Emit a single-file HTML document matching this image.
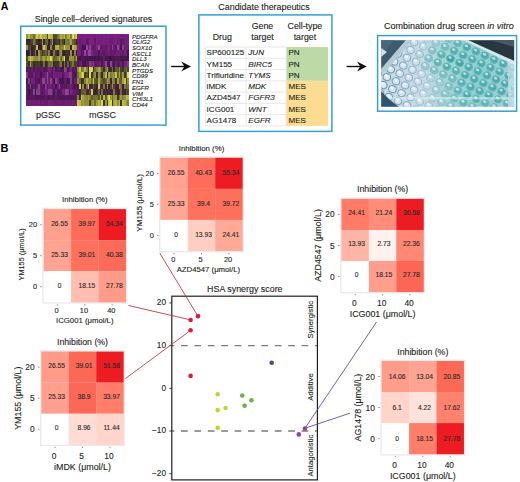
<!DOCTYPE html>
<html><head><meta charset="utf-8"><style>
html,body{margin:0;padding:0;background:#fff;}
svg{display:block;font-family:"Liberation Sans", sans-serif;}
</style></head><body>
<svg width="520" height="482" viewBox="0 0 520 482">
<rect width="520" height="482" fill="#fff"/>
<text x="0.8" y="9.6" font-size="10.6" text-anchor="start" fill="#000" font-weight="bold" >A</text>
<text x="93.5" y="22" font-size="8.85" text-anchor="middle" fill="#231f20" font-weight="normal" stroke="#231f20" stroke-width="0.12" >Single cell–derived signatures</text>
<rect x="20.7" y="26.2" width="145.3" height="98.9" fill="none" stroke="#35a0d0" stroke-width="1.5"/>
<g shape-rendering="crispEdges">
<rect x="26.20" y="33.80" width="1.75" height="5.57" fill="#95933a"/>
<rect x="27.90" y="33.80" width="1.75" height="5.57" fill="#b6b642"/>
<rect x="29.60" y="33.80" width="1.75" height="5.57" fill="#96943a"/>
<rect x="31.30" y="33.80" width="1.75" height="5.57" fill="#92903a"/>
<rect x="33.00" y="33.80" width="1.75" height="5.57" fill="#767333"/>
<rect x="34.70" y="33.80" width="1.75" height="5.57" fill="#96953b"/>
<rect x="36.40" y="33.80" width="1.75" height="5.57" fill="#d0d048"/>
<rect x="38.10" y="33.80" width="1.75" height="5.57" fill="#b3b241"/>
<rect x="39.80" y="33.80" width="1.75" height="5.57" fill="#cdcd48"/>
<rect x="41.50" y="33.80" width="1.75" height="5.57" fill="#abaa3f"/>
<rect x="43.20" y="33.80" width="1.75" height="5.57" fill="#b1b041"/>
<rect x="44.90" y="33.80" width="1.75" height="5.57" fill="#a8a73f"/>
<rect x="46.60" y="33.80" width="1.75" height="5.57" fill="#514e2a"/>
<rect x="48.30" y="33.80" width="1.75" height="5.57" fill="#c5c546"/>
<rect x="50.00" y="33.80" width="1.75" height="5.57" fill="#b6b542"/>
<rect x="51.70" y="33.80" width="1.75" height="5.57" fill="#b6b542"/>
<rect x="53.40" y="33.80" width="1.75" height="5.57" fill="#504c2a"/>
<rect x="55.10" y="33.80" width="1.75" height="5.57" fill="#4d4929"/>
<rect x="56.80" y="33.80" width="1.75" height="5.57" fill="#787533"/>
<rect x="58.50" y="33.80" width="1.75" height="5.57" fill="#8b8938"/>
<rect x="60.20" y="33.80" width="1.75" height="5.57" fill="#adac40"/>
<rect x="61.90" y="33.80" width="1.75" height="5.57" fill="#9e9c3c"/>
<rect x="63.60" y="33.80" width="1.75" height="5.57" fill="#b7b642"/>
<rect x="65.30" y="33.80" width="1.75" height="5.57" fill="#838136"/>
<rect x="67.00" y="33.80" width="1.75" height="5.57" fill="#aeac40"/>
<rect x="68.70" y="33.80" width="1.75" height="5.57" fill="#b1b041"/>
<rect x="70.40" y="33.80" width="1.75" height="5.57" fill="#828036"/>
<rect x="72.10" y="33.80" width="1.75" height="5.57" fill="#dada4b"/>
<rect x="73.80" y="33.80" width="1.75" height="5.57" fill="#b8b843"/>
<rect x="75.50" y="33.80" width="1.75" height="5.57" fill="#d4d449"/>
<rect x="26.20" y="39.32" width="1.75" height="5.57" fill="#3e2b31"/>
<rect x="27.90" y="39.32" width="1.75" height="5.57" fill="#3e2635"/>
<rect x="29.60" y="39.32" width="1.75" height="5.57" fill="#3e3728"/>
<rect x="31.30" y="39.32" width="1.75" height="5.57" fill="#4a4729"/>
<rect x="33.00" y="39.32" width="1.75" height="5.57" fill="#767333"/>
<rect x="34.70" y="39.32" width="1.75" height="5.57" fill="#605d2e"/>
<rect x="36.40" y="39.32" width="1.75" height="5.57" fill="#3e332b"/>
<rect x="38.10" y="39.32" width="1.75" height="5.57" fill="#3e1d3d"/>
<rect x="39.80" y="39.32" width="1.75" height="5.57" fill="#3e302e"/>
<rect x="41.50" y="39.32" width="1.75" height="5.57" fill="#95933a"/>
<rect x="43.20" y="39.32" width="1.75" height="5.57" fill="#3e2438"/>
<rect x="44.90" y="39.32" width="1.75" height="5.57" fill="#605d2e"/>
<rect x="46.60" y="39.32" width="1.75" height="5.57" fill="#6a6730"/>
<rect x="48.30" y="39.32" width="1.75" height="5.57" fill="#3e1644"/>
<rect x="50.00" y="39.32" width="1.75" height="5.57" fill="#54512b"/>
<rect x="51.70" y="39.32" width="1.75" height="5.57" fill="#9a983b"/>
<rect x="53.40" y="39.32" width="1.75" height="5.57" fill="#3e1644"/>
<rect x="55.10" y="39.32" width="1.75" height="5.57" fill="#3e3827"/>
<rect x="56.80" y="39.32" width="1.75" height="5.57" fill="#4a4729"/>
<rect x="58.50" y="39.32" width="1.75" height="5.57" fill="#3e2338"/>
<rect x="60.20" y="39.32" width="1.75" height="5.57" fill="#6e6b31"/>
<rect x="61.90" y="39.32" width="1.75" height="5.57" fill="#4d4a29"/>
<rect x="63.60" y="39.32" width="1.75" height="5.57" fill="#3e1644"/>
<rect x="65.30" y="39.32" width="1.75" height="5.57" fill="#807e35"/>
<rect x="67.00" y="39.32" width="1.75" height="5.57" fill="#787533"/>
<rect x="68.70" y="39.32" width="1.75" height="5.57" fill="#878537"/>
<rect x="70.40" y="39.32" width="1.75" height="5.57" fill="#a19f3d"/>
<rect x="72.10" y="39.32" width="1.75" height="5.57" fill="#67642f"/>
<rect x="73.80" y="39.32" width="1.75" height="5.57" fill="#58552c"/>
<rect x="75.50" y="39.32" width="1.75" height="5.57" fill="#3e1644"/>
<rect x="26.20" y="44.85" width="1.75" height="5.57" fill="#98963b"/>
<rect x="27.90" y="44.85" width="1.75" height="5.57" fill="#494528"/>
<rect x="29.60" y="44.85" width="1.75" height="5.57" fill="#54512b"/>
<rect x="31.30" y="44.85" width="1.75" height="5.57" fill="#3e213a"/>
<rect x="33.00" y="44.85" width="1.75" height="5.57" fill="#3e2f2e"/>
<rect x="34.70" y="44.85" width="1.75" height="5.57" fill="#4f4b2a"/>
<rect x="36.40" y="44.85" width="1.75" height="5.57" fill="#bfbf44"/>
<rect x="38.10" y="44.85" width="1.75" height="5.57" fill="#3e1644"/>
<rect x="39.80" y="44.85" width="1.75" height="5.57" fill="#3e1842"/>
<rect x="41.50" y="44.85" width="1.75" height="5.57" fill="#817f36"/>
<rect x="43.20" y="44.85" width="1.75" height="5.57" fill="#c8c846"/>
<rect x="44.90" y="44.85" width="1.75" height="5.57" fill="#96943a"/>
<rect x="46.60" y="44.85" width="1.75" height="5.57" fill="#3e1644"/>
<rect x="48.30" y="44.85" width="1.75" height="5.57" fill="#3e1644"/>
<rect x="50.00" y="44.85" width="1.75" height="5.57" fill="#888637"/>
<rect x="51.70" y="44.85" width="1.75" height="5.57" fill="#3f3b26"/>
<rect x="53.40" y="44.85" width="1.75" height="5.57" fill="#3e2834"/>
<rect x="55.10" y="44.85" width="1.75" height="5.57" fill="#adac40"/>
<rect x="56.80" y="44.85" width="1.75" height="5.57" fill="#b5b442"/>
<rect x="58.50" y="44.85" width="1.75" height="5.57" fill="#7c7a34"/>
<rect x="60.20" y="44.85" width="1.75" height="5.57" fill="#827f36"/>
<rect x="61.90" y="44.85" width="1.75" height="5.57" fill="#8d8b38"/>
<rect x="63.60" y="44.85" width="1.75" height="5.57" fill="#d1d048"/>
<rect x="65.30" y="44.85" width="1.75" height="5.57" fill="#98973b"/>
<rect x="67.00" y="44.85" width="1.75" height="5.57" fill="#92903a"/>
<rect x="68.70" y="44.85" width="1.75" height="5.57" fill="#94923a"/>
<rect x="70.40" y="44.85" width="1.75" height="5.57" fill="#3e1644"/>
<rect x="72.10" y="44.85" width="1.75" height="5.57" fill="#bfbe44"/>
<rect x="73.80" y="44.85" width="1.75" height="5.57" fill="#acab40"/>
<rect x="75.50" y="44.85" width="1.75" height="5.57" fill="#93913a"/>
<rect x="26.20" y="50.37" width="1.75" height="5.57" fill="#3e1644"/>
<rect x="27.90" y="50.37" width="1.75" height="5.57" fill="#3e1f3c"/>
<rect x="29.60" y="50.37" width="1.75" height="5.57" fill="#716f32"/>
<rect x="31.30" y="50.37" width="1.75" height="5.57" fill="#3e1644"/>
<rect x="33.00" y="50.37" width="1.75" height="5.57" fill="#3e322c"/>
<rect x="34.70" y="50.37" width="1.75" height="5.57" fill="#7b7934"/>
<rect x="36.40" y="50.37" width="1.75" height="5.57" fill="#3e1644"/>
<rect x="38.10" y="50.37" width="1.75" height="5.57" fill="#9b993c"/>
<rect x="39.80" y="50.37" width="1.75" height="5.57" fill="#615e2e"/>
<rect x="41.50" y="50.37" width="1.75" height="5.57" fill="#3e332b"/>
<rect x="43.20" y="50.37" width="1.75" height="5.57" fill="#54502b"/>
<rect x="44.90" y="50.37" width="1.75" height="5.57" fill="#67642f"/>
<rect x="46.60" y="50.37" width="1.75" height="5.57" fill="#474328"/>
<rect x="48.30" y="50.37" width="1.75" height="5.57" fill="#828036"/>
<rect x="50.00" y="50.37" width="1.75" height="5.57" fill="#3e1e3d"/>
<rect x="51.70" y="50.37" width="1.75" height="5.57" fill="#3e2834"/>
<rect x="53.40" y="50.37" width="1.75" height="5.57" fill="#7c7a34"/>
<rect x="55.10" y="50.37" width="1.75" height="5.57" fill="#403c26"/>
<rect x="56.80" y="50.37" width="1.75" height="5.57" fill="#3e1644"/>
<rect x="58.50" y="50.37" width="1.75" height="5.57" fill="#777533"/>
<rect x="60.20" y="50.37" width="1.75" height="5.57" fill="#93913a"/>
<rect x="61.90" y="50.37" width="1.75" height="5.57" fill="#3e2735"/>
<rect x="63.60" y="50.37" width="1.75" height="5.57" fill="#3e1644"/>
<rect x="65.30" y="50.37" width="1.75" height="5.57" fill="#3e342a"/>
<rect x="67.00" y="50.37" width="1.75" height="5.57" fill="#3e332b"/>
<rect x="68.70" y="50.37" width="1.75" height="5.57" fill="#3e2d30"/>
<rect x="70.40" y="50.37" width="1.75" height="5.57" fill="#908e39"/>
<rect x="72.10" y="50.37" width="1.75" height="5.57" fill="#3e1644"/>
<rect x="73.80" y="50.37" width="1.75" height="5.57" fill="#888637"/>
<rect x="75.50" y="50.37" width="1.75" height="5.57" fill="#3e1644"/>
<rect x="26.20" y="55.89" width="1.75" height="5.57" fill="#4e4b2a"/>
<rect x="27.90" y="55.89" width="1.75" height="5.57" fill="#a8a63f"/>
<rect x="29.60" y="55.89" width="1.75" height="5.57" fill="#c4c446"/>
<rect x="31.30" y="55.89" width="1.75" height="5.57" fill="#b5b442"/>
<rect x="33.00" y="55.89" width="1.75" height="5.57" fill="#97953b"/>
<rect x="34.70" y="55.89" width="1.75" height="5.57" fill="#8b8938"/>
<rect x="36.40" y="55.89" width="1.75" height="5.57" fill="#8b8938"/>
<rect x="38.10" y="55.89" width="1.75" height="5.57" fill="#a4a33e"/>
<rect x="39.80" y="55.89" width="1.75" height="5.57" fill="#777433"/>
<rect x="41.50" y="55.89" width="1.75" height="5.57" fill="#93913a"/>
<rect x="43.20" y="55.89" width="1.75" height="5.57" fill="#a4a33e"/>
<rect x="44.90" y="55.89" width="1.75" height="5.57" fill="#828036"/>
<rect x="46.60" y="55.89" width="1.75" height="5.57" fill="#afae41"/>
<rect x="48.30" y="55.89" width="1.75" height="5.57" fill="#a4a33e"/>
<rect x="50.00" y="55.89" width="1.75" height="5.57" fill="#dada4b"/>
<rect x="51.70" y="55.89" width="1.75" height="5.57" fill="#96943a"/>
<rect x="53.40" y="55.89" width="1.75" height="5.57" fill="#67642f"/>
<rect x="55.10" y="55.89" width="1.75" height="5.57" fill="#6a6830"/>
<rect x="56.80" y="55.89" width="1.75" height="5.57" fill="#817f36"/>
<rect x="58.50" y="55.89" width="1.75" height="5.57" fill="#b9b843"/>
<rect x="60.20" y="55.89" width="1.75" height="5.57" fill="#6d6a31"/>
<rect x="61.90" y="55.89" width="1.75" height="5.57" fill="#99983b"/>
<rect x="63.60" y="55.89" width="1.75" height="5.57" fill="#dada4b"/>
<rect x="65.30" y="55.89" width="1.75" height="5.57" fill="#3e2e30"/>
<rect x="67.00" y="55.89" width="1.75" height="5.57" fill="#3e342a"/>
<rect x="68.70" y="55.89" width="1.75" height="5.57" fill="#918f39"/>
<rect x="70.40" y="55.89" width="1.75" height="5.57" fill="#9a983b"/>
<rect x="72.10" y="55.89" width="1.75" height="5.57" fill="#908f39"/>
<rect x="73.80" y="55.89" width="1.75" height="5.57" fill="#67642f"/>
<rect x="75.50" y="55.89" width="1.75" height="5.57" fill="#a9a83f"/>
<rect x="26.20" y="61.42" width="1.75" height="5.57" fill="#55512b"/>
<rect x="27.90" y="61.42" width="1.75" height="5.57" fill="#3e302e"/>
<rect x="29.60" y="61.42" width="1.75" height="5.57" fill="#a8a73f"/>
<rect x="31.30" y="61.42" width="1.75" height="5.57" fill="#58552c"/>
<rect x="33.00" y="61.42" width="1.75" height="5.57" fill="#3e2f2e"/>
<rect x="34.70" y="61.42" width="1.75" height="5.57" fill="#433f27"/>
<rect x="36.40" y="61.42" width="1.75" height="5.57" fill="#3e3926"/>
<rect x="38.10" y="61.42" width="1.75" height="5.57" fill="#454127"/>
<rect x="39.80" y="61.42" width="1.75" height="5.57" fill="#3e223a"/>
<rect x="41.50" y="61.42" width="1.75" height="5.57" fill="#3e312d"/>
<rect x="43.20" y="61.42" width="1.75" height="5.57" fill="#737032"/>
<rect x="44.90" y="61.42" width="1.75" height="5.57" fill="#3e223a"/>
<rect x="46.60" y="61.42" width="1.75" height="5.57" fill="#454127"/>
<rect x="48.30" y="61.42" width="1.75" height="5.57" fill="#706e32"/>
<rect x="50.00" y="61.42" width="1.75" height="5.57" fill="#6d6a31"/>
<rect x="51.70" y="61.42" width="1.75" height="5.57" fill="#858337"/>
<rect x="53.40" y="61.42" width="1.75" height="5.57" fill="#3e223a"/>
<rect x="55.10" y="61.42" width="1.75" height="5.57" fill="#3e3529"/>
<rect x="56.80" y="61.42" width="1.75" height="5.57" fill="#3e3529"/>
<rect x="58.50" y="61.42" width="1.75" height="5.57" fill="#63602e"/>
<rect x="60.20" y="61.42" width="1.75" height="5.57" fill="#767333"/>
<rect x="61.90" y="61.42" width="1.75" height="5.57" fill="#3e223a"/>
<rect x="63.60" y="61.42" width="1.75" height="5.57" fill="#767333"/>
<rect x="65.30" y="61.42" width="1.75" height="5.57" fill="#3e223a"/>
<rect x="67.00" y="61.42" width="1.75" height="5.57" fill="#66632f"/>
<rect x="68.70" y="61.42" width="1.75" height="5.57" fill="#3e223a"/>
<rect x="70.40" y="61.42" width="1.75" height="5.57" fill="#504d2a"/>
<rect x="72.10" y="61.42" width="1.75" height="5.57" fill="#7a7734"/>
<rect x="73.80" y="61.42" width="1.75" height="5.57" fill="#413d26"/>
<rect x="75.50" y="61.42" width="1.75" height="5.57" fill="#514d2a"/>
<rect x="26.20" y="66.94" width="1.75" height="5.57" fill="#531959"/>
<rect x="27.90" y="66.94" width="1.75" height="5.57" fill="#601b66"/>
<rect x="29.60" y="66.94" width="1.75" height="5.57" fill="#4e1854"/>
<rect x="31.30" y="66.94" width="1.75" height="5.57" fill="#681c6e"/>
<rect x="33.00" y="66.94" width="1.75" height="5.57" fill="#511957"/>
<rect x="34.70" y="66.94" width="1.75" height="5.57" fill="#681c6e"/>
<rect x="36.40" y="66.94" width="1.75" height="5.57" fill="#5e1b64"/>
<rect x="38.10" y="66.94" width="1.75" height="5.57" fill="#56195c"/>
<rect x="39.80" y="66.94" width="1.75" height="5.57" fill="#571a5d"/>
<rect x="41.50" y="66.94" width="1.75" height="5.57" fill="#751f7b"/>
<rect x="43.20" y="66.94" width="1.75" height="5.57" fill="#4a1850"/>
<rect x="44.90" y="66.94" width="1.75" height="5.57" fill="#54195a"/>
<rect x="46.60" y="66.94" width="1.75" height="5.57" fill="#631b69"/>
<rect x="48.30" y="66.94" width="1.75" height="5.57" fill="#791f7f"/>
<rect x="50.00" y="66.94" width="1.75" height="5.57" fill="#741e7a"/>
<rect x="51.70" y="66.94" width="1.75" height="5.57" fill="#44174a"/>
<rect x="53.40" y="66.94" width="1.75" height="5.57" fill="#7c2082"/>
<rect x="55.10" y="66.94" width="1.75" height="5.57" fill="#47174d"/>
<rect x="56.80" y="66.94" width="1.75" height="5.57" fill="#5b1a61"/>
<rect x="58.50" y="66.94" width="1.75" height="5.57" fill="#5b1a61"/>
<rect x="60.20" y="66.94" width="1.75" height="5.57" fill="#4d1853"/>
<rect x="61.90" y="66.94" width="1.75" height="5.57" fill="#46174c"/>
<rect x="63.60" y="66.94" width="1.75" height="5.57" fill="#904495"/>
<rect x="65.30" y="66.94" width="1.75" height="5.57" fill="#814186"/>
<rect x="67.00" y="66.94" width="1.75" height="5.57" fill="#47174d"/>
<rect x="68.70" y="66.94" width="1.75" height="5.57" fill="#681c6e"/>
<rect x="70.40" y="66.94" width="1.75" height="5.57" fill="#7c2082"/>
<rect x="72.10" y="66.94" width="1.75" height="5.57" fill="#531959"/>
<rect x="73.80" y="66.94" width="1.75" height="5.57" fill="#631c69"/>
<rect x="75.50" y="66.94" width="1.75" height="5.57" fill="#521958"/>
<rect x="26.20" y="72.46" width="1.75" height="5.57" fill="#88438e"/>
<rect x="27.90" y="72.46" width="1.75" height="5.57" fill="#4b1851"/>
<rect x="29.60" y="72.46" width="1.75" height="5.57" fill="#6c1d72"/>
<rect x="31.30" y="72.46" width="1.75" height="5.57" fill="#4e1854"/>
<rect x="33.00" y="72.46" width="1.75" height="5.57" fill="#7c2082"/>
<rect x="34.70" y="72.46" width="1.75" height="5.57" fill="#4a1850"/>
<rect x="36.40" y="72.46" width="1.75" height="5.57" fill="#631c69"/>
<rect x="38.10" y="72.46" width="1.75" height="5.57" fill="#601b66"/>
<rect x="39.80" y="72.46" width="1.75" height="5.57" fill="#421648"/>
<rect x="41.50" y="72.46" width="1.75" height="5.57" fill="#5e1b64"/>
<rect x="43.20" y="72.46" width="1.75" height="5.57" fill="#631c69"/>
<rect x="44.90" y="72.46" width="1.75" height="5.57" fill="#781f7e"/>
<rect x="46.60" y="72.46" width="1.75" height="5.57" fill="#95459a"/>
<rect x="48.30" y="72.46" width="1.75" height="5.57" fill="#6b1d71"/>
<rect x="50.00" y="72.46" width="1.75" height="5.57" fill="#5f1b65"/>
<rect x="51.70" y="72.46" width="1.75" height="5.57" fill="#4f1855"/>
<rect x="53.40" y="72.46" width="1.75" height="5.57" fill="#7c2082"/>
<rect x="55.10" y="72.46" width="1.75" height="5.57" fill="#6c1d72"/>
<rect x="56.80" y="72.46" width="1.75" height="5.57" fill="#711e77"/>
<rect x="58.50" y="72.46" width="1.75" height="5.57" fill="#6e1d74"/>
<rect x="60.20" y="72.46" width="1.75" height="5.57" fill="#761f7c"/>
<rect x="61.90" y="72.46" width="1.75" height="5.57" fill="#581a5e"/>
<rect x="63.60" y="72.46" width="1.75" height="5.57" fill="#6c1d72"/>
<rect x="65.30" y="72.46" width="1.75" height="5.57" fill="#7c2082"/>
<rect x="67.00" y="72.46" width="1.75" height="5.57" fill="#7c2082"/>
<rect x="68.70" y="72.46" width="1.75" height="5.57" fill="#8f4495"/>
<rect x="70.40" y="72.46" width="1.75" height="5.57" fill="#814186"/>
<rect x="72.10" y="72.46" width="1.75" height="5.57" fill="#511957"/>
<rect x="73.80" y="72.46" width="1.75" height="5.57" fill="#45174b"/>
<rect x="75.50" y="72.46" width="1.75" height="5.57" fill="#521958"/>
<rect x="26.20" y="77.98" width="1.75" height="5.57" fill="#4f1855"/>
<rect x="27.90" y="77.98" width="1.75" height="5.57" fill="#7d4182"/>
<rect x="29.60" y="77.98" width="1.75" height="5.57" fill="#421648"/>
<rect x="31.30" y="77.98" width="1.75" height="5.57" fill="#7c2082"/>
<rect x="33.00" y="77.98" width="1.75" height="5.57" fill="#731e79"/>
<rect x="34.70" y="77.98" width="1.75" height="5.57" fill="#531959"/>
<rect x="36.40" y="77.98" width="1.75" height="5.57" fill="#56195c"/>
<rect x="38.10" y="77.98" width="1.75" height="5.57" fill="#4f1855"/>
<rect x="39.80" y="77.98" width="1.75" height="5.57" fill="#5b1a61"/>
<rect x="41.50" y="77.98" width="1.75" height="5.57" fill="#814287"/>
<rect x="43.20" y="77.98" width="1.75" height="5.57" fill="#924497"/>
<rect x="44.90" y="77.98" width="1.75" height="5.57" fill="#681c6e"/>
<rect x="46.60" y="77.98" width="1.75" height="5.57" fill="#904496"/>
<rect x="48.30" y="77.98" width="1.75" height="5.57" fill="#711e77"/>
<rect x="50.00" y="77.98" width="1.75" height="5.57" fill="#834289"/>
<rect x="51.70" y="77.98" width="1.75" height="5.57" fill="#7c2082"/>
<rect x="53.40" y="77.98" width="1.75" height="5.57" fill="#421648"/>
<rect x="55.10" y="77.98" width="1.75" height="5.57" fill="#85428b"/>
<rect x="56.80" y="77.98" width="1.75" height="5.57" fill="#7c2082"/>
<rect x="58.50" y="77.98" width="1.75" height="5.57" fill="#4d1853"/>
<rect x="60.20" y="77.98" width="1.75" height="5.57" fill="#47174d"/>
<rect x="61.90" y="77.98" width="1.75" height="5.57" fill="#421648"/>
<rect x="63.60" y="77.98" width="1.75" height="5.57" fill="#5b1a61"/>
<rect x="65.30" y="77.98" width="1.75" height="5.57" fill="#5d1b63"/>
<rect x="67.00" y="77.98" width="1.75" height="5.57" fill="#421648"/>
<rect x="68.70" y="77.98" width="1.75" height="5.57" fill="#4d1853"/>
<rect x="70.40" y="77.98" width="1.75" height="5.57" fill="#7b4080"/>
<rect x="72.10" y="77.98" width="1.75" height="5.57" fill="#4e1854"/>
<rect x="73.80" y="77.98" width="1.75" height="5.57" fill="#721e78"/>
<rect x="75.50" y="77.98" width="1.75" height="5.57" fill="#5c1a62"/>
<rect x="26.20" y="83.51" width="1.75" height="5.57" fill="#5e1b64"/>
<rect x="27.90" y="83.51" width="1.75" height="5.57" fill="#511957"/>
<rect x="29.60" y="83.51" width="1.75" height="5.57" fill="#824287"/>
<rect x="31.30" y="83.51" width="1.75" height="5.57" fill="#54195a"/>
<rect x="33.00" y="83.51" width="1.75" height="5.57" fill="#641c6a"/>
<rect x="34.70" y="83.51" width="1.75" height="5.57" fill="#4b1851"/>
<rect x="36.40" y="83.51" width="1.75" height="5.57" fill="#6a1d70"/>
<rect x="38.10" y="83.51" width="1.75" height="5.57" fill="#87438c"/>
<rect x="39.80" y="83.51" width="1.75" height="5.57" fill="#5d1b63"/>
<rect x="41.50" y="83.51" width="1.75" height="5.57" fill="#591a5f"/>
<rect x="43.20" y="83.51" width="1.75" height="5.57" fill="#531959"/>
<rect x="44.90" y="83.51" width="1.75" height="5.57" fill="#7c4182"/>
<rect x="46.60" y="83.51" width="1.75" height="5.57" fill="#531959"/>
<rect x="48.30" y="83.51" width="1.75" height="5.57" fill="#721e78"/>
<rect x="50.00" y="83.51" width="1.75" height="5.57" fill="#711e77"/>
<rect x="51.70" y="83.51" width="1.75" height="5.57" fill="#4c1852"/>
<rect x="53.40" y="83.51" width="1.75" height="5.57" fill="#741e7a"/>
<rect x="55.10" y="83.51" width="1.75" height="5.57" fill="#3e1644"/>
<rect x="56.80" y="83.51" width="1.75" height="5.57" fill="#6b1d71"/>
<rect x="58.50" y="83.51" width="1.75" height="5.57" fill="#8f4494"/>
<rect x="60.20" y="83.51" width="1.75" height="5.57" fill="#571a5d"/>
<rect x="61.90" y="83.51" width="1.75" height="5.57" fill="#561a5c"/>
<rect x="63.60" y="83.51" width="1.75" height="5.57" fill="#581a5e"/>
<rect x="65.30" y="83.51" width="1.75" height="5.57" fill="#55195b"/>
<rect x="67.00" y="83.51" width="1.75" height="5.57" fill="#651c6b"/>
<rect x="68.70" y="83.51" width="1.75" height="5.57" fill="#6c1d72"/>
<rect x="70.40" y="83.51" width="1.75" height="5.57" fill="#691d6f"/>
<rect x="72.10" y="83.51" width="1.75" height="5.57" fill="#591a5f"/>
<rect x="73.80" y="83.51" width="1.75" height="5.57" fill="#3e1644"/>
<rect x="75.50" y="83.51" width="1.75" height="5.57" fill="#6b1d71"/>
<rect x="26.20" y="89.03" width="1.75" height="5.57" fill="#5d1b63"/>
<rect x="27.90" y="89.03" width="1.75" height="5.57" fill="#421648"/>
<rect x="29.60" y="89.03" width="1.75" height="5.57" fill="#49174f"/>
<rect x="31.30" y="89.03" width="1.75" height="5.57" fill="#5f1b65"/>
<rect x="33.00" y="89.03" width="1.75" height="5.57" fill="#84428a"/>
<rect x="34.70" y="89.03" width="1.75" height="5.57" fill="#46174c"/>
<rect x="36.40" y="89.03" width="1.75" height="5.57" fill="#7f4185"/>
<rect x="38.10" y="89.03" width="1.75" height="5.57" fill="#824288"/>
<rect x="39.80" y="89.03" width="1.75" height="5.57" fill="#651c6b"/>
<rect x="41.50" y="89.03" width="1.75" height="5.57" fill="#501856"/>
<rect x="43.20" y="89.03" width="1.75" height="5.57" fill="#5f1b65"/>
<rect x="44.90" y="89.03" width="1.75" height="5.57" fill="#7c2082"/>
<rect x="46.60" y="89.03" width="1.75" height="5.57" fill="#6e1d74"/>
<rect x="48.30" y="89.03" width="1.75" height="5.57" fill="#824288"/>
<rect x="50.00" y="89.03" width="1.75" height="5.57" fill="#8a438f"/>
<rect x="51.70" y="89.03" width="1.75" height="5.57" fill="#7c2082"/>
<rect x="53.40" y="89.03" width="1.75" height="5.57" fill="#47174d"/>
<rect x="55.10" y="89.03" width="1.75" height="5.57" fill="#731e79"/>
<rect x="56.80" y="89.03" width="1.75" height="5.57" fill="#4e1854"/>
<rect x="58.50" y="89.03" width="1.75" height="5.57" fill="#4a1850"/>
<rect x="60.20" y="89.03" width="1.75" height="5.57" fill="#511957"/>
<rect x="61.90" y="89.03" width="1.75" height="5.57" fill="#7c2082"/>
<rect x="63.60" y="89.03" width="1.75" height="5.57" fill="#6d1d73"/>
<rect x="65.30" y="89.03" width="1.75" height="5.57" fill="#95459a"/>
<rect x="67.00" y="89.03" width="1.75" height="5.57" fill="#814287"/>
<rect x="68.70" y="89.03" width="1.75" height="5.57" fill="#501856"/>
<rect x="70.40" y="89.03" width="1.75" height="5.57" fill="#7c2082"/>
<rect x="72.10" y="89.03" width="1.75" height="5.57" fill="#6a1d70"/>
<rect x="73.80" y="89.03" width="1.75" height="5.57" fill="#611b67"/>
<rect x="75.50" y="89.03" width="1.75" height="5.57" fill="#5f1b65"/>
<rect x="26.20" y="94.55" width="1.75" height="5.57" fill="#56195c"/>
<rect x="27.90" y="94.55" width="1.75" height="5.57" fill="#4f1855"/>
<rect x="29.60" y="94.55" width="1.75" height="5.57" fill="#501956"/>
<rect x="31.30" y="94.55" width="1.75" height="5.57" fill="#511957"/>
<rect x="33.00" y="94.55" width="1.75" height="5.57" fill="#501856"/>
<rect x="34.70" y="94.55" width="1.75" height="5.57" fill="#531959"/>
<rect x="36.40" y="94.55" width="1.75" height="5.57" fill="#4b1851"/>
<rect x="38.10" y="94.55" width="1.75" height="5.57" fill="#4d1853"/>
<rect x="39.80" y="94.55" width="1.75" height="5.57" fill="#501856"/>
<rect x="41.50" y="94.55" width="1.75" height="5.57" fill="#531959"/>
<rect x="43.20" y="94.55" width="1.75" height="5.57" fill="#501956"/>
<rect x="44.90" y="94.55" width="1.75" height="5.57" fill="#5e1b64"/>
<rect x="46.60" y="94.55" width="1.75" height="5.57" fill="#54195a"/>
<rect x="48.30" y="94.55" width="1.75" height="5.57" fill="#4f1855"/>
<rect x="50.00" y="94.55" width="1.75" height="5.57" fill="#571a5d"/>
<rect x="51.70" y="94.55" width="1.75" height="5.57" fill="#4e1854"/>
<rect x="53.40" y="94.55" width="1.75" height="5.57" fill="#4e1854"/>
<rect x="55.10" y="94.55" width="1.75" height="5.57" fill="#571a5d"/>
<rect x="56.80" y="94.55" width="1.75" height="5.57" fill="#511957"/>
<rect x="58.50" y="94.55" width="1.75" height="5.57" fill="#511957"/>
<rect x="60.20" y="94.55" width="1.75" height="5.57" fill="#4d1853"/>
<rect x="61.90" y="94.55" width="1.75" height="5.57" fill="#4c1852"/>
<rect x="63.60" y="94.55" width="1.75" height="5.57" fill="#4f1855"/>
<rect x="65.30" y="94.55" width="1.75" height="5.57" fill="#54195a"/>
<rect x="67.00" y="94.55" width="1.75" height="5.57" fill="#501856"/>
<rect x="68.70" y="94.55" width="1.75" height="5.57" fill="#501856"/>
<rect x="70.40" y="94.55" width="1.75" height="5.57" fill="#4b1851"/>
<rect x="72.10" y="94.55" width="1.75" height="5.57" fill="#4e1854"/>
<rect x="73.80" y="94.55" width="1.75" height="5.57" fill="#531959"/>
<rect x="75.50" y="94.55" width="1.75" height="5.57" fill="#561a5c"/>
<rect x="26.20" y="100.08" width="1.75" height="5.57" fill="#701e76"/>
<rect x="27.90" y="100.08" width="1.75" height="5.57" fill="#711e77"/>
<rect x="29.60" y="100.08" width="1.75" height="5.57" fill="#731e79"/>
<rect x="31.30" y="100.08" width="1.75" height="5.57" fill="#6f1d75"/>
<rect x="33.00" y="100.08" width="1.75" height="5.57" fill="#701e76"/>
<rect x="34.70" y="100.08" width="1.75" height="5.57" fill="#6e1d74"/>
<rect x="36.40" y="100.08" width="1.75" height="5.57" fill="#6c1d72"/>
<rect x="38.10" y="100.08" width="1.75" height="5.57" fill="#701e76"/>
<rect x="39.80" y="100.08" width="1.75" height="5.57" fill="#641c6a"/>
<rect x="41.50" y="100.08" width="1.75" height="5.57" fill="#701e76"/>
<rect x="43.20" y="100.08" width="1.75" height="5.57" fill="#691d6f"/>
<rect x="44.90" y="100.08" width="1.75" height="5.57" fill="#6e1d74"/>
<rect x="46.60" y="100.08" width="1.75" height="5.57" fill="#691d6f"/>
<rect x="48.30" y="100.08" width="1.75" height="5.57" fill="#791f7f"/>
<rect x="50.00" y="100.08" width="1.75" height="5.57" fill="#721e78"/>
<rect x="51.70" y="100.08" width="1.75" height="5.57" fill="#6d1d73"/>
<rect x="53.40" y="100.08" width="1.75" height="5.57" fill="#6c1d72"/>
<rect x="55.10" y="100.08" width="1.75" height="5.57" fill="#641c6a"/>
<rect x="56.80" y="100.08" width="1.75" height="5.57" fill="#6d1d73"/>
<rect x="58.50" y="100.08" width="1.75" height="5.57" fill="#691c6f"/>
<rect x="60.20" y="100.08" width="1.75" height="5.57" fill="#6b1d71"/>
<rect x="61.90" y="100.08" width="1.75" height="5.57" fill="#6a1d70"/>
<rect x="63.60" y="100.08" width="1.75" height="5.57" fill="#6c1d72"/>
<rect x="65.30" y="100.08" width="1.75" height="5.57" fill="#6f1d75"/>
<rect x="67.00" y="100.08" width="1.75" height="5.57" fill="#6c1d72"/>
<rect x="68.70" y="100.08" width="1.75" height="5.57" fill="#731e79"/>
<rect x="70.40" y="100.08" width="1.75" height="5.57" fill="#691d6f"/>
<rect x="72.10" y="100.08" width="1.75" height="5.57" fill="#731e79"/>
<rect x="73.80" y="100.08" width="1.75" height="5.57" fill="#6d1d73"/>
<rect x="75.50" y="100.08" width="1.75" height="5.57" fill="#651c6b"/>
<rect x="77.20" y="33.80" width="1.78" height="5.57" fill="#7c2082"/>
<rect x="78.93" y="33.80" width="1.78" height="5.57" fill="#7b1f81"/>
<rect x="80.65" y="33.80" width="1.78" height="5.57" fill="#751f7b"/>
<rect x="82.38" y="33.80" width="1.78" height="5.57" fill="#7b1f81"/>
<rect x="84.11" y="33.80" width="1.78" height="5.57" fill="#7c2082"/>
<rect x="85.83" y="33.80" width="1.78" height="5.57" fill="#7a1f80"/>
<rect x="87.56" y="33.80" width="1.78" height="5.57" fill="#781f7e"/>
<rect x="89.29" y="33.80" width="1.78" height="5.57" fill="#781f7e"/>
<rect x="91.01" y="33.80" width="1.78" height="5.57" fill="#7c2082"/>
<rect x="92.74" y="33.80" width="1.78" height="5.57" fill="#721e78"/>
<rect x="94.47" y="33.80" width="1.78" height="5.57" fill="#731e79"/>
<rect x="96.19" y="33.80" width="1.78" height="5.57" fill="#7b1f81"/>
<rect x="97.92" y="33.80" width="1.78" height="5.57" fill="#7a1f80"/>
<rect x="99.65" y="33.80" width="1.78" height="5.57" fill="#7c2082"/>
<rect x="101.37" y="33.80" width="1.78" height="5.57" fill="#741e7a"/>
<rect x="103.10" y="33.80" width="1.78" height="5.57" fill="#7c2082"/>
<rect x="104.83" y="33.80" width="1.78" height="5.57" fill="#781f7e"/>
<rect x="106.55" y="33.80" width="1.78" height="5.57" fill="#7c2082"/>
<rect x="108.28" y="33.80" width="1.78" height="5.57" fill="#7c2082"/>
<rect x="110.01" y="33.80" width="1.78" height="5.57" fill="#781f7e"/>
<rect x="111.73" y="33.80" width="1.78" height="5.57" fill="#741e7a"/>
<rect x="113.46" y="33.80" width="1.78" height="5.57" fill="#7c2082"/>
<rect x="115.19" y="33.80" width="1.78" height="5.57" fill="#7c2082"/>
<rect x="116.91" y="33.80" width="1.78" height="5.57" fill="#771f7d"/>
<rect x="118.64" y="33.80" width="1.78" height="5.57" fill="#7c2082"/>
<rect x="120.37" y="33.80" width="1.78" height="5.57" fill="#7a1f80"/>
<rect x="122.09" y="33.80" width="1.78" height="5.57" fill="#731e79"/>
<rect x="123.82" y="33.80" width="1.78" height="5.57" fill="#751f7b"/>
<rect x="125.55" y="33.80" width="1.78" height="5.57" fill="#7c2082"/>
<rect x="127.27" y="33.80" width="1.78" height="5.57" fill="#6f1e75"/>
<rect x="77.20" y="39.32" width="1.78" height="5.57" fill="#711e77"/>
<rect x="78.93" y="39.32" width="1.78" height="5.57" fill="#661c6c"/>
<rect x="80.65" y="39.32" width="1.78" height="5.57" fill="#791f7f"/>
<rect x="82.38" y="39.32" width="1.78" height="5.57" fill="#711e77"/>
<rect x="84.11" y="39.32" width="1.78" height="5.57" fill="#7c2082"/>
<rect x="85.83" y="39.32" width="1.78" height="5.57" fill="#591a5f"/>
<rect x="87.56" y="39.32" width="1.78" height="5.57" fill="#5f1b65"/>
<rect x="89.29" y="39.32" width="1.78" height="5.57" fill="#7c2082"/>
<rect x="91.01" y="39.32" width="1.78" height="5.57" fill="#7c2082"/>
<rect x="92.74" y="39.32" width="1.78" height="5.57" fill="#7c2082"/>
<rect x="94.47" y="39.32" width="1.78" height="5.57" fill="#611b67"/>
<rect x="96.19" y="39.32" width="1.78" height="5.57" fill="#771f7d"/>
<rect x="97.92" y="39.32" width="1.78" height="5.57" fill="#721e78"/>
<rect x="99.65" y="39.32" width="1.78" height="5.57" fill="#751e7b"/>
<rect x="101.37" y="39.32" width="1.78" height="5.57" fill="#721e78"/>
<rect x="103.10" y="39.32" width="1.78" height="5.57" fill="#7c2082"/>
<rect x="104.83" y="39.32" width="1.78" height="5.57" fill="#711e77"/>
<rect x="106.55" y="39.32" width="1.78" height="5.57" fill="#7c2082"/>
<rect x="108.28" y="39.32" width="1.78" height="5.57" fill="#721e78"/>
<rect x="110.01" y="39.32" width="1.78" height="5.57" fill="#6d1d73"/>
<rect x="111.73" y="39.32" width="1.78" height="5.57" fill="#6b1d71"/>
<rect x="113.46" y="39.32" width="1.78" height="5.57" fill="#741e7a"/>
<rect x="115.19" y="39.32" width="1.78" height="5.57" fill="#7c2082"/>
<rect x="116.91" y="39.32" width="1.78" height="5.57" fill="#6f1d75"/>
<rect x="118.64" y="39.32" width="1.78" height="5.57" fill="#771f7d"/>
<rect x="120.37" y="39.32" width="1.78" height="5.57" fill="#5c1a62"/>
<rect x="122.09" y="39.32" width="1.78" height="5.57" fill="#671c6d"/>
<rect x="123.82" y="39.32" width="1.78" height="5.57" fill="#721e78"/>
<rect x="125.55" y="39.32" width="1.78" height="5.57" fill="#771f7d"/>
<rect x="127.27" y="39.32" width="1.78" height="5.57" fill="#7a1f80"/>
<rect x="77.20" y="44.85" width="1.78" height="5.57" fill="#7c2082"/>
<rect x="78.93" y="44.85" width="1.78" height="5.57" fill="#701e76"/>
<rect x="80.65" y="44.85" width="1.78" height="5.57" fill="#5b1a61"/>
<rect x="82.38" y="44.85" width="1.78" height="5.57" fill="#421648"/>
<rect x="84.11" y="44.85" width="1.78" height="5.57" fill="#421648"/>
<rect x="85.83" y="44.85" width="1.78" height="5.57" fill="#95459a"/>
<rect x="87.56" y="44.85" width="1.78" height="5.57" fill="#651c6b"/>
<rect x="89.29" y="44.85" width="1.78" height="5.57" fill="#88438d"/>
<rect x="91.01" y="44.85" width="1.78" height="5.57" fill="#671c6d"/>
<rect x="92.74" y="44.85" width="1.78" height="5.57" fill="#571a5d"/>
<rect x="94.47" y="44.85" width="1.78" height="5.57" fill="#681c6e"/>
<rect x="96.19" y="44.85" width="1.78" height="5.57" fill="#7c2082"/>
<rect x="97.92" y="44.85" width="1.78" height="5.57" fill="#924498"/>
<rect x="99.65" y="44.85" width="1.78" height="5.57" fill="#5a1a60"/>
<rect x="101.37" y="44.85" width="1.78" height="5.57" fill="#5d1b63"/>
<rect x="103.10" y="44.85" width="1.78" height="5.57" fill="#6a1d70"/>
<rect x="104.83" y="44.85" width="1.78" height="5.57" fill="#5e1b64"/>
<rect x="106.55" y="44.85" width="1.78" height="5.57" fill="#741e7a"/>
<rect x="108.28" y="44.85" width="1.78" height="5.57" fill="#7b1f81"/>
<rect x="110.01" y="44.85" width="1.78" height="5.57" fill="#5a1a60"/>
<rect x="111.73" y="44.85" width="1.78" height="5.57" fill="#8a4390"/>
<rect x="113.46" y="44.85" width="1.78" height="5.57" fill="#6b1d71"/>
<rect x="115.19" y="44.85" width="1.78" height="5.57" fill="#54195a"/>
<rect x="116.91" y="44.85" width="1.78" height="5.57" fill="#934498"/>
<rect x="118.64" y="44.85" width="1.78" height="5.57" fill="#7c2082"/>
<rect x="120.37" y="44.85" width="1.78" height="5.57" fill="#48174e"/>
<rect x="122.09" y="44.85" width="1.78" height="5.57" fill="#85428a"/>
<rect x="123.82" y="44.85" width="1.78" height="5.57" fill="#6b1d71"/>
<rect x="125.55" y="44.85" width="1.78" height="5.57" fill="#7c2082"/>
<rect x="127.27" y="44.85" width="1.78" height="5.57" fill="#6d1d73"/>
<rect x="77.20" y="50.37" width="1.78" height="5.57" fill="#7a1f80"/>
<rect x="78.93" y="50.37" width="1.78" height="5.57" fill="#7c2082"/>
<rect x="80.65" y="50.37" width="1.78" height="5.57" fill="#45174b"/>
<rect x="82.38" y="50.37" width="1.78" height="5.57" fill="#5e1b64"/>
<rect x="84.11" y="50.37" width="1.78" height="5.57" fill="#8f4495"/>
<rect x="85.83" y="50.37" width="1.78" height="5.57" fill="#731e79"/>
<rect x="87.56" y="50.37" width="1.78" height="5.57" fill="#944499"/>
<rect x="89.29" y="50.37" width="1.78" height="5.57" fill="#95459a"/>
<rect x="91.01" y="50.37" width="1.78" height="5.57" fill="#7c2082"/>
<rect x="92.74" y="50.37" width="1.78" height="5.57" fill="#6a1d70"/>
<rect x="94.47" y="50.37" width="1.78" height="5.57" fill="#691c6f"/>
<rect x="96.19" y="50.37" width="1.78" height="5.57" fill="#681c6e"/>
<rect x="97.92" y="50.37" width="1.78" height="5.57" fill="#4b1851"/>
<rect x="99.65" y="50.37" width="1.78" height="5.57" fill="#6d1d73"/>
<rect x="101.37" y="50.37" width="1.78" height="5.57" fill="#651c6b"/>
<rect x="103.10" y="50.37" width="1.78" height="5.57" fill="#581a5e"/>
<rect x="104.83" y="50.37" width="1.78" height="5.57" fill="#681c6e"/>
<rect x="106.55" y="50.37" width="1.78" height="5.57" fill="#621b68"/>
<rect x="108.28" y="50.37" width="1.78" height="5.57" fill="#731e79"/>
<rect x="110.01" y="50.37" width="1.78" height="5.57" fill="#5f1b65"/>
<rect x="111.73" y="50.37" width="1.78" height="5.57" fill="#651c6b"/>
<rect x="113.46" y="50.37" width="1.78" height="5.57" fill="#611b67"/>
<rect x="115.19" y="50.37" width="1.78" height="5.57" fill="#6c1d72"/>
<rect x="116.91" y="50.37" width="1.78" height="5.57" fill="#721e78"/>
<rect x="118.64" y="50.37" width="1.78" height="5.57" fill="#731e79"/>
<rect x="120.37" y="50.37" width="1.78" height="5.57" fill="#671c6d"/>
<rect x="122.09" y="50.37" width="1.78" height="5.57" fill="#601b66"/>
<rect x="123.82" y="50.37" width="1.78" height="5.57" fill="#731e79"/>
<rect x="125.55" y="50.37" width="1.78" height="5.57" fill="#741e7a"/>
<rect x="127.27" y="50.37" width="1.78" height="5.57" fill="#421648"/>
<rect x="77.20" y="55.89" width="1.78" height="5.57" fill="#47174d"/>
<rect x="78.93" y="55.89" width="1.78" height="5.57" fill="#431649"/>
<rect x="80.65" y="55.89" width="1.78" height="5.57" fill="#4f1855"/>
<rect x="82.38" y="55.89" width="1.78" height="5.57" fill="#531959"/>
<rect x="84.11" y="55.89" width="1.78" height="5.57" fill="#45174b"/>
<rect x="85.83" y="55.89" width="1.78" height="5.57" fill="#44174a"/>
<rect x="87.56" y="55.89" width="1.78" height="5.57" fill="#45174b"/>
<rect x="89.29" y="55.89" width="1.78" height="5.57" fill="#3e1644"/>
<rect x="91.01" y="55.89" width="1.78" height="5.57" fill="#47174d"/>
<rect x="92.74" y="55.89" width="1.78" height="5.57" fill="#47174d"/>
<rect x="94.47" y="55.89" width="1.78" height="5.57" fill="#431649"/>
<rect x="96.19" y="55.89" width="1.78" height="5.57" fill="#46174c"/>
<rect x="97.92" y="55.89" width="1.78" height="5.57" fill="#3f1645"/>
<rect x="99.65" y="55.89" width="1.78" height="5.57" fill="#4f1855"/>
<rect x="101.37" y="55.89" width="1.78" height="5.57" fill="#4a1850"/>
<rect x="103.10" y="55.89" width="1.78" height="5.57" fill="#5a1a60"/>
<rect x="104.83" y="55.89" width="1.78" height="5.57" fill="#44174a"/>
<rect x="106.55" y="55.89" width="1.78" height="5.57" fill="#4a1850"/>
<rect x="108.28" y="55.89" width="1.78" height="5.57" fill="#431649"/>
<rect x="110.01" y="55.89" width="1.78" height="5.57" fill="#3e1644"/>
<rect x="111.73" y="55.89" width="1.78" height="5.57" fill="#48174e"/>
<rect x="113.46" y="55.89" width="1.78" height="5.57" fill="#49174f"/>
<rect x="115.19" y="55.89" width="1.78" height="5.57" fill="#4b1851"/>
<rect x="116.91" y="55.89" width="1.78" height="5.57" fill="#4d1853"/>
<rect x="118.64" y="55.89" width="1.78" height="5.57" fill="#4b1851"/>
<rect x="120.37" y="55.89" width="1.78" height="5.57" fill="#45174b"/>
<rect x="122.09" y="55.89" width="1.78" height="5.57" fill="#48174e"/>
<rect x="123.82" y="55.89" width="1.78" height="5.57" fill="#48174e"/>
<rect x="125.55" y="55.89" width="1.78" height="5.57" fill="#49174f"/>
<rect x="127.27" y="55.89" width="1.78" height="5.57" fill="#431649"/>
<rect x="77.20" y="61.42" width="1.78" height="5.57" fill="#561a5c"/>
<rect x="78.93" y="61.42" width="1.78" height="5.57" fill="#661c6c"/>
<rect x="80.65" y="61.42" width="1.78" height="5.57" fill="#7c2082"/>
<rect x="82.38" y="61.42" width="1.78" height="5.57" fill="#3f1645"/>
<rect x="84.11" y="61.42" width="1.78" height="5.57" fill="#48174e"/>
<rect x="85.83" y="61.42" width="1.78" height="5.57" fill="#5a1a60"/>
<rect x="87.56" y="61.42" width="1.78" height="5.57" fill="#5a1a60"/>
<rect x="89.29" y="61.42" width="1.78" height="5.57" fill="#804185"/>
<rect x="91.01" y="61.42" width="1.78" height="5.57" fill="#7c2082"/>
<rect x="92.74" y="61.42" width="1.78" height="5.57" fill="#7f4184"/>
<rect x="94.47" y="61.42" width="1.78" height="5.57" fill="#5a1a60"/>
<rect x="96.19" y="61.42" width="1.78" height="5.57" fill="#611b67"/>
<rect x="97.92" y="61.42" width="1.78" height="5.57" fill="#641c6a"/>
<rect x="99.65" y="61.42" width="1.78" height="5.57" fill="#7c2082"/>
<rect x="101.37" y="61.42" width="1.78" height="5.57" fill="#421648"/>
<rect x="103.10" y="61.42" width="1.78" height="5.57" fill="#6c1d72"/>
<rect x="104.83" y="61.42" width="1.78" height="5.57" fill="#8d4493"/>
<rect x="106.55" y="61.42" width="1.78" height="5.57" fill="#501956"/>
<rect x="108.28" y="61.42" width="1.78" height="5.57" fill="#44174a"/>
<rect x="110.01" y="61.42" width="1.78" height="5.57" fill="#914497"/>
<rect x="111.73" y="61.42" width="1.78" height="5.57" fill="#601b66"/>
<rect x="113.46" y="61.42" width="1.78" height="5.57" fill="#47174d"/>
<rect x="115.19" y="61.42" width="1.78" height="5.57" fill="#711e77"/>
<rect x="116.91" y="61.42" width="1.78" height="5.57" fill="#561a5c"/>
<rect x="118.64" y="61.42" width="1.78" height="5.57" fill="#55195b"/>
<rect x="120.37" y="61.42" width="1.78" height="5.57" fill="#6a1d70"/>
<rect x="122.09" y="61.42" width="1.78" height="5.57" fill="#501856"/>
<rect x="123.82" y="61.42" width="1.78" height="5.57" fill="#7c2082"/>
<rect x="125.55" y="61.42" width="1.78" height="5.57" fill="#6d1d73"/>
<rect x="127.27" y="61.42" width="1.78" height="5.57" fill="#804185"/>
<rect x="77.20" y="66.94" width="1.78" height="5.57" fill="#908e39"/>
<rect x="78.93" y="66.94" width="1.78" height="5.57" fill="#c5c446"/>
<rect x="80.65" y="66.94" width="1.78" height="5.57" fill="#737032"/>
<rect x="82.38" y="66.94" width="1.78" height="5.57" fill="#868437"/>
<rect x="84.11" y="66.94" width="1.78" height="5.57" fill="#b4b342"/>
<rect x="85.83" y="66.94" width="1.78" height="5.57" fill="#817f35"/>
<rect x="87.56" y="66.94" width="1.78" height="5.57" fill="#3e2834"/>
<rect x="89.29" y="66.94" width="1.78" height="5.57" fill="#dada4b"/>
<rect x="91.01" y="66.94" width="1.78" height="5.57" fill="#dada4b"/>
<rect x="92.74" y="66.94" width="1.78" height="5.57" fill="#3e223a"/>
<rect x="94.47" y="66.94" width="1.78" height="5.57" fill="#706d32"/>
<rect x="96.19" y="66.94" width="1.78" height="5.57" fill="#898737"/>
<rect x="97.92" y="66.94" width="1.78" height="5.57" fill="#a6a43e"/>
<rect x="99.65" y="66.94" width="1.78" height="5.57" fill="#96943b"/>
<rect x="101.37" y="66.94" width="1.78" height="5.57" fill="#63602e"/>
<rect x="103.10" y="66.94" width="1.78" height="5.57" fill="#3e312c"/>
<rect x="104.83" y="66.94" width="1.78" height="5.57" fill="#787533"/>
<rect x="106.55" y="66.94" width="1.78" height="5.57" fill="#a9a83f"/>
<rect x="108.28" y="66.94" width="1.78" height="5.57" fill="#3e302e"/>
<rect x="110.01" y="66.94" width="1.78" height="5.57" fill="#3e322b"/>
<rect x="111.73" y="66.94" width="1.78" height="5.57" fill="#716e32"/>
<rect x="113.46" y="66.94" width="1.78" height="5.57" fill="#3e223a"/>
<rect x="115.19" y="66.94" width="1.78" height="5.57" fill="#64612f"/>
<rect x="116.91" y="66.94" width="1.78" height="5.57" fill="#59562c"/>
<rect x="118.64" y="66.94" width="1.78" height="5.57" fill="#8b8938"/>
<rect x="120.37" y="66.94" width="1.78" height="5.57" fill="#494528"/>
<rect x="122.09" y="66.94" width="1.78" height="5.57" fill="#3e3826"/>
<rect x="123.82" y="66.94" width="1.78" height="5.57" fill="#5c592d"/>
<rect x="125.55" y="66.94" width="1.78" height="5.57" fill="#706d31"/>
<rect x="127.27" y="66.94" width="1.78" height="5.57" fill="#4b4829"/>
<rect x="77.20" y="72.46" width="1.78" height="5.57" fill="#737032"/>
<rect x="78.93" y="72.46" width="1.78" height="5.57" fill="#a09f3d"/>
<rect x="80.65" y="72.46" width="1.78" height="5.57" fill="#b9b943"/>
<rect x="82.38" y="72.46" width="1.78" height="5.57" fill="#d7d74a"/>
<rect x="84.11" y="72.46" width="1.78" height="5.57" fill="#3e3827"/>
<rect x="85.83" y="72.46" width="1.78" height="5.57" fill="#57532b"/>
<rect x="87.56" y="72.46" width="1.78" height="5.57" fill="#3e223a"/>
<rect x="89.29" y="72.46" width="1.78" height="5.57" fill="#dada4b"/>
<rect x="91.01" y="72.46" width="1.78" height="5.57" fill="#403c26"/>
<rect x="92.74" y="72.46" width="1.78" height="5.57" fill="#706d32"/>
<rect x="94.47" y="72.46" width="1.78" height="5.57" fill="#92913a"/>
<rect x="96.19" y="72.46" width="1.78" height="5.57" fill="#3e223a"/>
<rect x="97.92" y="72.46" width="1.78" height="5.57" fill="#8f8d39"/>
<rect x="99.65" y="72.46" width="1.78" height="5.57" fill="#716e32"/>
<rect x="101.37" y="72.46" width="1.78" height="5.57" fill="#3e223a"/>
<rect x="103.10" y="72.46" width="1.78" height="5.57" fill="#848236"/>
<rect x="104.83" y="72.46" width="1.78" height="5.57" fill="#bab943"/>
<rect x="106.55" y="72.46" width="1.78" height="5.57" fill="#3e223a"/>
<rect x="108.28" y="72.46" width="1.78" height="5.57" fill="#a3a23e"/>
<rect x="110.01" y="72.46" width="1.78" height="5.57" fill="#7f7d35"/>
<rect x="111.73" y="72.46" width="1.78" height="5.57" fill="#908e39"/>
<rect x="113.46" y="72.46" width="1.78" height="5.57" fill="#8e8c38"/>
<rect x="115.19" y="72.46" width="1.78" height="5.57" fill="#c0c045"/>
<rect x="116.91" y="72.46" width="1.78" height="5.57" fill="#64612f"/>
<rect x="118.64" y="72.46" width="1.78" height="5.57" fill="#a7a63f"/>
<rect x="120.37" y="72.46" width="1.78" height="5.57" fill="#57542c"/>
<rect x="122.09" y="72.46" width="1.78" height="5.57" fill="#9f9d3d"/>
<rect x="123.82" y="72.46" width="1.78" height="5.57" fill="#3e3628"/>
<rect x="125.55" y="72.46" width="1.78" height="5.57" fill="#6b6930"/>
<rect x="127.27" y="72.46" width="1.78" height="5.57" fill="#d8d84a"/>
<rect x="77.20" y="77.98" width="1.78" height="5.57" fill="#918f39"/>
<rect x="78.93" y="77.98" width="1.78" height="5.57" fill="#6b6930"/>
<rect x="80.65" y="77.98" width="1.78" height="5.57" fill="#3e2933"/>
<rect x="82.38" y="77.98" width="1.78" height="5.57" fill="#3f3b26"/>
<rect x="84.11" y="77.98" width="1.78" height="5.57" fill="#817f36"/>
<rect x="85.83" y="77.98" width="1.78" height="5.57" fill="#aead40"/>
<rect x="87.56" y="77.98" width="1.78" height="5.57" fill="#908e39"/>
<rect x="89.29" y="77.98" width="1.78" height="5.57" fill="#96943a"/>
<rect x="91.01" y="77.98" width="1.78" height="5.57" fill="#737032"/>
<rect x="92.74" y="77.98" width="1.78" height="5.57" fill="#c6c546"/>
<rect x="94.47" y="77.98" width="1.78" height="5.57" fill="#5c592d"/>
<rect x="96.19" y="77.98" width="1.78" height="5.57" fill="#514e2a"/>
<rect x="97.92" y="77.98" width="1.78" height="5.57" fill="#abaa3f"/>
<rect x="99.65" y="77.98" width="1.78" height="5.57" fill="#797734"/>
<rect x="101.37" y="77.98" width="1.78" height="5.57" fill="#64612f"/>
<rect x="103.10" y="77.98" width="1.78" height="5.57" fill="#4f4c2a"/>
<rect x="104.83" y="77.98" width="1.78" height="5.57" fill="#65622f"/>
<rect x="106.55" y="77.98" width="1.78" height="5.57" fill="#9b9a3c"/>
<rect x="108.28" y="77.98" width="1.78" height="5.57" fill="#8b8938"/>
<rect x="110.01" y="77.98" width="1.78" height="5.57" fill="#3e2636"/>
<rect x="111.73" y="77.98" width="1.78" height="5.57" fill="#908e39"/>
<rect x="113.46" y="77.98" width="1.78" height="5.57" fill="#817e35"/>
<rect x="115.19" y="77.98" width="1.78" height="5.57" fill="#3e302e"/>
<rect x="116.91" y="77.98" width="1.78" height="5.57" fill="#a4a33e"/>
<rect x="118.64" y="77.98" width="1.78" height="5.57" fill="#63602e"/>
<rect x="120.37" y="77.98" width="1.78" height="5.57" fill="#605d2e"/>
<rect x="122.09" y="77.98" width="1.78" height="5.57" fill="#a6a43e"/>
<rect x="123.82" y="77.98" width="1.78" height="5.57" fill="#c4c345"/>
<rect x="125.55" y="77.98" width="1.78" height="5.57" fill="#474328"/>
<rect x="127.27" y="77.98" width="1.78" height="5.57" fill="#908f39"/>
<rect x="77.20" y="83.51" width="1.78" height="5.57" fill="#401646"/>
<rect x="78.93" y="83.51" width="1.78" height="5.57" fill="#d2d249"/>
<rect x="80.65" y="83.51" width="1.78" height="5.57" fill="#3e2437"/>
<rect x="82.38" y="83.51" width="1.78" height="5.57" fill="#918f39"/>
<rect x="84.11" y="83.51" width="1.78" height="5.57" fill="#3e1d3d"/>
<rect x="85.83" y="83.51" width="1.78" height="5.57" fill="#797734"/>
<rect x="87.56" y="83.51" width="1.78" height="5.57" fill="#cccc47"/>
<rect x="89.29" y="83.51" width="1.78" height="5.57" fill="#4f1855"/>
<rect x="91.01" y="83.51" width="1.78" height="5.57" fill="#3e2735"/>
<rect x="92.74" y="83.51" width="1.78" height="5.57" fill="#65622f"/>
<rect x="94.47" y="83.51" width="1.78" height="5.57" fill="#3e3727"/>
<rect x="96.19" y="83.51" width="1.78" height="5.57" fill="#3e1c3e"/>
<rect x="97.92" y="83.51" width="1.78" height="5.57" fill="#c9c847"/>
<rect x="99.65" y="83.51" width="1.78" height="5.57" fill="#484528"/>
<rect x="101.37" y="83.51" width="1.78" height="5.57" fill="#4f1855"/>
<rect x="103.10" y="83.51" width="1.78" height="5.57" fill="#7c7a34"/>
<rect x="104.83" y="83.51" width="1.78" height="5.57" fill="#4f1855"/>
<rect x="106.55" y="83.51" width="1.78" height="5.57" fill="#8e8c39"/>
<rect x="108.28" y="83.51" width="1.78" height="5.57" fill="#3e203b"/>
<rect x="110.01" y="83.51" width="1.78" height="5.57" fill="#4d4a29"/>
<rect x="111.73" y="83.51" width="1.78" height="5.57" fill="#95933a"/>
<rect x="113.46" y="83.51" width="1.78" height="5.57" fill="#4b4829"/>
<rect x="115.19" y="83.51" width="1.78" height="5.57" fill="#4f1855"/>
<rect x="116.91" y="83.51" width="1.78" height="5.57" fill="#4f1855"/>
<rect x="118.64" y="83.51" width="1.78" height="5.57" fill="#908e39"/>
<rect x="120.37" y="83.51" width="1.78" height="5.57" fill="#757233"/>
<rect x="122.09" y="83.51" width="1.78" height="5.57" fill="#3e1644"/>
<rect x="123.82" y="83.51" width="1.78" height="5.57" fill="#7c7a34"/>
<rect x="125.55" y="83.51" width="1.78" height="5.57" fill="#65622f"/>
<rect x="127.27" y="83.51" width="1.78" height="5.57" fill="#6f6c31"/>
<rect x="77.20" y="89.03" width="1.78" height="5.57" fill="#581a5e"/>
<rect x="78.93" y="89.03" width="1.78" height="5.57" fill="#3e1d3e"/>
<rect x="80.65" y="89.03" width="1.78" height="5.57" fill="#696630"/>
<rect x="82.38" y="89.03" width="1.78" height="5.57" fill="#5e5b2d"/>
<rect x="84.11" y="89.03" width="1.78" height="5.57" fill="#67652f"/>
<rect x="85.83" y="89.03" width="1.78" height="5.57" fill="#581a5e"/>
<rect x="87.56" y="89.03" width="1.78" height="5.57" fill="#3e332b"/>
<rect x="89.29" y="89.03" width="1.78" height="5.57" fill="#4d4929"/>
<rect x="91.01" y="89.03" width="1.78" height="5.57" fill="#cbcb47"/>
<rect x="92.74" y="89.03" width="1.78" height="5.57" fill="#4f1855"/>
<rect x="94.47" y="89.03" width="1.78" height="5.57" fill="#3e1b3f"/>
<rect x="96.19" y="89.03" width="1.78" height="5.57" fill="#3e2d30"/>
<rect x="97.92" y="89.03" width="1.78" height="5.57" fill="#686530"/>
<rect x="99.65" y="89.03" width="1.78" height="5.57" fill="#3e1643"/>
<rect x="101.37" y="89.03" width="1.78" height="5.57" fill="#787633"/>
<rect x="103.10" y="89.03" width="1.78" height="5.57" fill="#49174f"/>
<rect x="104.83" y="89.03" width="1.78" height="5.57" fill="#3e3827"/>
<rect x="106.55" y="89.03" width="1.78" height="5.57" fill="#401646"/>
<rect x="108.28" y="89.03" width="1.78" height="5.57" fill="#3e332b"/>
<rect x="110.01" y="89.03" width="1.78" height="5.57" fill="#46174c"/>
<rect x="111.73" y="89.03" width="1.78" height="5.57" fill="#581a5e"/>
<rect x="113.46" y="89.03" width="1.78" height="5.57" fill="#757233"/>
<rect x="115.19" y="89.03" width="1.78" height="5.57" fill="#3e3a26"/>
<rect x="116.91" y="89.03" width="1.78" height="5.57" fill="#411647"/>
<rect x="118.64" y="89.03" width="1.78" height="5.57" fill="#3e3529"/>
<rect x="120.37" y="89.03" width="1.78" height="5.57" fill="#6e6c31"/>
<rect x="122.09" y="89.03" width="1.78" height="5.57" fill="#501956"/>
<rect x="123.82" y="89.03" width="1.78" height="5.57" fill="#3e2636"/>
<rect x="125.55" y="89.03" width="1.78" height="5.57" fill="#504d2a"/>
<rect x="127.27" y="89.03" width="1.78" height="5.57" fill="#4f4c2a"/>
<rect x="77.20" y="94.55" width="1.78" height="5.57" fill="#848236"/>
<rect x="78.93" y="94.55" width="1.78" height="5.57" fill="#3e2e30"/>
<rect x="80.65" y="94.55" width="1.78" height="5.57" fill="#cece48"/>
<rect x="82.38" y="94.55" width="1.78" height="5.57" fill="#a4a23e"/>
<rect x="84.11" y="94.55" width="1.78" height="5.57" fill="#95933a"/>
<rect x="85.83" y="94.55" width="1.78" height="5.57" fill="#878437"/>
<rect x="87.56" y="94.55" width="1.78" height="5.57" fill="#a19f3d"/>
<rect x="89.29" y="94.55" width="1.78" height="5.57" fill="#7f7d35"/>
<rect x="91.01" y="94.55" width="1.78" height="5.57" fill="#615e2e"/>
<rect x="92.74" y="94.55" width="1.78" height="5.57" fill="#706d31"/>
<rect x="94.47" y="94.55" width="1.78" height="5.57" fill="#777433"/>
<rect x="96.19" y="94.55" width="1.78" height="5.57" fill="#767433"/>
<rect x="97.92" y="94.55" width="1.78" height="5.57" fill="#5a562c"/>
<rect x="99.65" y="94.55" width="1.78" height="5.57" fill="#b2b141"/>
<rect x="101.37" y="94.55" width="1.78" height="5.57" fill="#514e2a"/>
<rect x="103.10" y="94.55" width="1.78" height="5.57" fill="#b3b241"/>
<rect x="104.83" y="94.55" width="1.78" height="5.57" fill="#615e2e"/>
<rect x="106.55" y="94.55" width="1.78" height="5.57" fill="#a5a33e"/>
<rect x="108.28" y="94.55" width="1.78" height="5.57" fill="#d4d449"/>
<rect x="110.01" y="94.55" width="1.78" height="5.57" fill="#9e9c3c"/>
<rect x="111.73" y="94.55" width="1.78" height="5.57" fill="#706d31"/>
<rect x="113.46" y="94.55" width="1.78" height="5.57" fill="#96953b"/>
<rect x="115.19" y="94.55" width="1.78" height="5.57" fill="#9b9a3c"/>
<rect x="116.91" y="94.55" width="1.78" height="5.57" fill="#3e3529"/>
<rect x="118.64" y="94.55" width="1.78" height="5.57" fill="#767433"/>
<rect x="120.37" y="94.55" width="1.78" height="5.57" fill="#9c9a3c"/>
<rect x="122.09" y="94.55" width="1.78" height="5.57" fill="#7d7b35"/>
<rect x="123.82" y="94.55" width="1.78" height="5.57" fill="#98963b"/>
<rect x="125.55" y="94.55" width="1.78" height="5.57" fill="#b7b642"/>
<rect x="127.27" y="94.55" width="1.78" height="5.57" fill="#b8b743"/>
<rect x="77.20" y="100.08" width="1.78" height="5.57" fill="#c7c746"/>
<rect x="78.93" y="100.08" width="1.78" height="5.57" fill="#b9b843"/>
<rect x="80.65" y="100.08" width="1.78" height="5.57" fill="#8f8d39"/>
<rect x="82.38" y="100.08" width="1.78" height="5.57" fill="#9c9b3c"/>
<rect x="84.11" y="100.08" width="1.78" height="5.57" fill="#908e39"/>
<rect x="85.83" y="100.08" width="1.78" height="5.57" fill="#8e8c39"/>
<rect x="87.56" y="100.08" width="1.78" height="5.57" fill="#94933a"/>
<rect x="89.29" y="100.08" width="1.78" height="5.57" fill="#444027"/>
<rect x="91.01" y="100.08" width="1.78" height="5.57" fill="#8d8b38"/>
<rect x="92.74" y="100.08" width="1.78" height="5.57" fill="#9c9a3c"/>
<rect x="94.47" y="100.08" width="1.78" height="5.57" fill="#6d6a31"/>
<rect x="96.19" y="100.08" width="1.78" height="5.57" fill="#9c9a3c"/>
<rect x="97.92" y="100.08" width="1.78" height="5.57" fill="#b5b442"/>
<rect x="99.65" y="100.08" width="1.78" height="5.57" fill="#95933a"/>
<rect x="101.37" y="100.08" width="1.78" height="5.57" fill="#dada4b"/>
<rect x="103.10" y="100.08" width="1.78" height="5.57" fill="#3e2e30"/>
<rect x="104.83" y="100.08" width="1.78" height="5.57" fill="#93913a"/>
<rect x="106.55" y="100.08" width="1.78" height="5.57" fill="#3e3926"/>
<rect x="108.28" y="100.08" width="1.78" height="5.57" fill="#caca47"/>
<rect x="110.01" y="100.08" width="1.78" height="5.57" fill="#dada4b"/>
<rect x="111.73" y="100.08" width="1.78" height="5.57" fill="#3e2e30"/>
<rect x="113.46" y="100.08" width="1.78" height="5.57" fill="#a3a23e"/>
<rect x="115.19" y="100.08" width="1.78" height="5.57" fill="#b5b442"/>
<rect x="116.91" y="100.08" width="1.78" height="5.57" fill="#8f8d39"/>
<rect x="118.64" y="100.08" width="1.78" height="5.57" fill="#b7b642"/>
<rect x="120.37" y="100.08" width="1.78" height="5.57" fill="#3e2e30"/>
<rect x="122.09" y="100.08" width="1.78" height="5.57" fill="#c5c446"/>
<rect x="123.82" y="100.08" width="1.78" height="5.57" fill="#afad40"/>
<rect x="125.55" y="100.08" width="1.78" height="5.57" fill="#9e9d3c"/>
<rect x="127.27" y="100.08" width="1.78" height="5.57" fill="#817e35"/>
</g>
<text x="132.0" y="38.60" font-size="6.15" text-anchor="start" fill="#231f20" font-weight="normal" font-style="italic" stroke="#231f20" stroke-width="0.12" >PDGFRA</text>
<text x="132.0" y="44.29" font-size="6.15" text-anchor="start" fill="#231f20" font-weight="normal" font-style="italic" stroke="#231f20" stroke-width="0.12" >OLIG2</text>
<text x="132.0" y="49.98" font-size="6.15" text-anchor="start" fill="#231f20" font-weight="normal" font-style="italic" stroke="#231f20" stroke-width="0.12" >SOX10</text>
<text x="132.0" y="55.67" font-size="6.15" text-anchor="start" fill="#231f20" font-weight="normal" font-style="italic" stroke="#231f20" stroke-width="0.12" >ASCL1</text>
<text x="132.0" y="61.36" font-size="6.15" text-anchor="start" fill="#231f20" font-weight="normal" font-style="italic" stroke="#231f20" stroke-width="0.12" >DLL3</text>
<text x="132.0" y="67.05" font-size="6.15" text-anchor="start" fill="#231f20" font-weight="normal" font-style="italic" stroke="#231f20" stroke-width="0.12" >BCAN</text>
<text x="132.0" y="72.74" font-size="6.15" text-anchor="start" fill="#231f20" font-weight="normal" font-style="italic" stroke="#231f20" stroke-width="0.12" >PTGDS</text>
<text x="132.0" y="78.43" font-size="6.15" text-anchor="start" fill="#231f20" font-weight="normal" font-style="italic" stroke="#231f20" stroke-width="0.12" >CD99</text>
<text x="132.0" y="84.12" font-size="6.15" text-anchor="start" fill="#231f20" font-weight="normal" font-style="italic" stroke="#231f20" stroke-width="0.12" >FN1</text>
<text x="132.0" y="89.81" font-size="6.15" text-anchor="start" fill="#231f20" font-weight="normal" font-style="italic" stroke="#231f20" stroke-width="0.12" >EGFR</text>
<text x="132.0" y="95.50" font-size="6.15" text-anchor="start" fill="#231f20" font-weight="normal" font-style="italic" stroke="#231f20" stroke-width="0.12" >VIM</text>
<text x="132.0" y="101.19" font-size="6.15" text-anchor="start" fill="#231f20" font-weight="normal" font-style="italic" stroke="#231f20" stroke-width="0.12" >CHI3L1</text>
<text x="132.0" y="106.88" font-size="6.15" text-anchor="start" fill="#231f20" font-weight="normal" font-style="italic" stroke="#231f20" stroke-width="0.12" >CD44</text>
<text x="36" y="117.6" font-size="9.0" text-anchor="start" fill="#231f20" font-weight="normal" stroke="#231f20" stroke-width="0.12" >pGSC</text>
<text x="89" y="117.6" font-size="9.0" text-anchor="start" fill="#231f20" font-weight="normal" stroke="#231f20" stroke-width="0.12" >mGSC</text>
<line x1="171.2" y1="66.5" x2="186" y2="66.5" stroke="#111" stroke-width="1.4"/>
<path d="M191,66.5 L181.2,61.5 L184.4,66.5 L181.2,71.5 Z" fill="#111"/>
<line x1="346.6" y1="66.5" x2="361.8" y2="66.5" stroke="#111" stroke-width="1.4"/>
<path d="M366.8,66.5 L357.0,61.5 L360.2,66.5 L357.0,71.5 Z" fill="#111"/>
<text x="264" y="9.8" font-size="8.9" text-anchor="middle" fill="#231f20" font-weight="normal" stroke="#231f20" stroke-width="0.12" >Candidate therapeutics</text>
<rect x="198.9" y="14.9" width="133" height="116.5" fill="none" stroke="#35a0d0" stroke-width="1.5"/>
<rect x="286.3" y="47.0" width="41.89999999999998" height="33.81" fill="#bcd9a6"/>
<rect x="286.3" y="80.81" width="41.89999999999998" height="45.08" fill="#fbdc90"/>
<line x1="205.3" y1="47.00" x2="286.3" y2="47.00" stroke="#e2e2e2" stroke-width="0.8"/>
<line x1="205.3" y1="58.27" x2="286.3" y2="58.27" stroke="#e2e2e2" stroke-width="0.8"/>
<line x1="205.3" y1="69.54" x2="286.3" y2="69.54" stroke="#e2e2e2" stroke-width="0.8"/>
<line x1="205.3" y1="80.81" x2="286.3" y2="80.81" stroke="#e2e2e2" stroke-width="0.8"/>
<line x1="205.3" y1="92.08" x2="286.3" y2="92.08" stroke="#e2e2e2" stroke-width="0.8"/>
<line x1="205.3" y1="103.35" x2="286.3" y2="103.35" stroke="#e2e2e2" stroke-width="0.8"/>
<line x1="205.3" y1="114.62" x2="286.3" y2="114.62" stroke="#e2e2e2" stroke-width="0.8"/>
<line x1="205.3" y1="125.89" x2="286.3" y2="125.89" stroke="#e2e2e2" stroke-width="0.8"/>
<line x1="205.3" y1="47.0" x2="205.3" y2="125.89" stroke="#e2e2e2" stroke-width="0.8"/>
<line x1="246.0" y1="47.0" x2="246.0" y2="125.89" stroke="#e2e2e2" stroke-width="0.8"/>
<line x1="286.3" y1="47.0" x2="286.3" y2="125.89" stroke="#e2e2e2" stroke-width="0.8"/>
<text x="206.6" y="55.40" font-size="8.05" text-anchor="start" fill="#231f20" font-weight="normal" stroke="#231f20" stroke-width="0.12" >SP600125</text>
<text x="248.3" y="55.40" font-size="8.05" text-anchor="start" fill="#231f20" font-weight="normal" font-style="italic" stroke="#231f20" stroke-width="0.12" >JUN</text>
<text x="288.5" y="55.40" font-size="8.05" text-anchor="start" fill="#231f20" font-weight="normal" stroke="#231f20" stroke-width="0.12" >PN</text>
<text x="206.6" y="66.67" font-size="8.05" text-anchor="start" fill="#231f20" font-weight="normal" stroke="#231f20" stroke-width="0.12" >YM155</text>
<text x="248.3" y="66.67" font-size="8.05" text-anchor="start" fill="#231f20" font-weight="normal" font-style="italic" stroke="#231f20" stroke-width="0.12" >BIRC5</text>
<text x="288.5" y="66.67" font-size="8.05" text-anchor="start" fill="#231f20" font-weight="normal" stroke="#231f20" stroke-width="0.12" >PN</text>
<text x="206.6" y="77.94" font-size="8.05" text-anchor="start" fill="#231f20" font-weight="normal" stroke="#231f20" stroke-width="0.12" >Trifluridine</text>
<text x="248.3" y="77.94" font-size="8.05" text-anchor="start" fill="#231f20" font-weight="normal" font-style="italic" stroke="#231f20" stroke-width="0.12" >TYMS</text>
<text x="288.5" y="77.94" font-size="8.05" text-anchor="start" fill="#231f20" font-weight="normal" stroke="#231f20" stroke-width="0.12" >PN</text>
<text x="206.6" y="89.21" font-size="8.05" text-anchor="start" fill="#231f20" font-weight="normal" stroke="#231f20" stroke-width="0.12" >iMDK</text>
<text x="248.3" y="89.21" font-size="8.05" text-anchor="start" fill="#231f20" font-weight="normal" font-style="italic" stroke="#231f20" stroke-width="0.12" >MDK</text>
<text x="288.5" y="89.21" font-size="8.05" text-anchor="start" fill="#231f20" font-weight="normal" stroke="#231f20" stroke-width="0.12" >MES</text>
<text x="206.6" y="100.48" font-size="8.05" text-anchor="start" fill="#231f20" font-weight="normal" stroke="#231f20" stroke-width="0.12" >AZD4547</text>
<text x="248.3" y="100.48" font-size="8.05" text-anchor="start" fill="#231f20" font-weight="normal" font-style="italic" stroke="#231f20" stroke-width="0.12" >FGFR3</text>
<text x="288.5" y="100.48" font-size="8.05" text-anchor="start" fill="#231f20" font-weight="normal" stroke="#231f20" stroke-width="0.12" >MES</text>
<text x="206.6" y="111.75" font-size="8.05" text-anchor="start" fill="#231f20" font-weight="normal" stroke="#231f20" stroke-width="0.12" >ICG001</text>
<text x="248.3" y="111.75" font-size="8.05" text-anchor="start" fill="#231f20" font-weight="normal" font-style="italic" stroke="#231f20" stroke-width="0.12" >WNT</text>
<text x="288.5" y="111.75" font-size="8.05" text-anchor="start" fill="#231f20" font-weight="normal" stroke="#231f20" stroke-width="0.12" >MES</text>
<text x="206.6" y="123.02" font-size="8.05" text-anchor="start" fill="#231f20" font-weight="normal" stroke="#231f20" stroke-width="0.12" >AG1478</text>
<text x="248.3" y="123.02" font-size="8.05" text-anchor="start" fill="#231f20" font-weight="normal" font-style="italic" stroke="#231f20" stroke-width="0.12" >EGFR</text>
<text x="288.5" y="123.02" font-size="8.05" text-anchor="start" fill="#231f20" font-weight="normal" stroke="#231f20" stroke-width="0.12" >MES</text>
<text x="222.3" y="39.7" font-size="8.8" text-anchor="middle" fill="#231f20" font-weight="normal" stroke="#231f20" stroke-width="0.12" >Drug</text>
<text x="262.5" y="29.3" font-size="8.8" text-anchor="middle" fill="#231f20" font-weight="normal" stroke="#231f20" stroke-width="0.12" >Gene</text>
<text x="262.5" y="39.7" font-size="8.8" text-anchor="middle" fill="#231f20" font-weight="normal" stroke="#231f20" stroke-width="0.12" >target</text>
<text x="304.9" y="29.3" font-size="8.8" text-anchor="middle" fill="#231f20" font-weight="normal" stroke="#231f20" stroke-width="0.12" >Cell-type</text>
<text x="304.9" y="39.7" font-size="8.8" text-anchor="middle" fill="#231f20" font-weight="normal" stroke="#231f20" stroke-width="0.12" >target</text>
<text x="384" y="29.2" font-size="9.02" fill="#231f20" stroke="#231f20" stroke-width="0.12">Combination drug screen <tspan font-style="italic">in vitro</tspan></text>
<rect x="377.6" y="35.6" width="139" height="75.6" fill="none" stroke="#35a0d0" stroke-width="1.5"/>
<defs><clipPath id="pc"><rect x="381.2" y="40.2" width="133" height="66.6"/></clipPath><clipPath id="plate"><path d="M408,40 L468,40 L514.5,60 L514.5,107 L398,107 L381,92 L381,70 Z"/></clipPath><filter id="bl" x="-5%" y="-5%" width="110%" height="110%"><feGaussianBlur stdDeviation="0.45"/></filter><linearGradient id="pg" x1="381" y1="0" x2="514" y2="0" gradientUnits="userSpaceOnUse"><stop offset="0" stop-color="#c2d8e6"/><stop offset="0.3" stop-color="#c4dde6"/><stop offset="0.5" stop-color="#9ed6d4"/><stop offset="0.75" stop-color="#8ccfd0"/><stop offset="1" stop-color="#a0d2d8"/></linearGradient></defs><g clip-path="url(#pc)"><rect x="381" y="40" width="134" height="67" fill="url(#pg)"/><g clip-path="url(#plate)"><g filter="url(#bl)"><g transform="rotate(24.5 383.2 37.5)"><ellipse cx="383.2" cy="37.5" rx="3.9" ry="3.5" fill="#d7e6f0" stroke="#7396af" stroke-width="1.1"/><ellipse cx="382.3" cy="36.5" rx="1.8" ry="1.3" fill="#f5fafc" opacity="0.8"/></g><g transform="rotate(24.5 379.6 45.4)"><ellipse cx="379.6" cy="45.4" rx="3.9" ry="3.5" fill="#d7e6f0" stroke="#7396af" stroke-width="1.1"/><ellipse cx="378.7" cy="44.4" rx="1.8" ry="1.3" fill="#f5fafc" opacity="0.8"/></g><g transform="rotate(24.5 376.0 53.2)"><ellipse cx="376.0" cy="53.2" rx="3.9" ry="3.5" fill="#d7e6f0" stroke="#7396af" stroke-width="1.1"/><ellipse cx="375.1" cy="52.2" rx="1.8" ry="1.3" fill="#f5fafc" opacity="0.8"/></g><g transform="rotate(24.5 392.3 41.7)"><ellipse cx="392.3" cy="41.7" rx="3.9" ry="3.5" fill="#d6e5ef" stroke="#7699b1" stroke-width="1.1"/><ellipse cx="391.4" cy="40.7" rx="1.8" ry="1.3" fill="#f5fafc" opacity="0.8"/></g><g transform="rotate(24.5 388.7 49.5)"><ellipse cx="388.7" cy="49.5" rx="3.9" ry="3.5" fill="#d7e6f0" stroke="#7396af" stroke-width="1.1"/><ellipse cx="387.8" cy="48.5" rx="1.8" ry="1.3" fill="#f5fafc" opacity="0.8"/></g><g transform="rotate(24.5 385.1 57.3)"><ellipse cx="385.1" cy="57.3" rx="3.9" ry="3.5" fill="#d7e6f0" stroke="#7396af" stroke-width="1.1"/><ellipse cx="384.2" cy="56.3" rx="1.8" ry="1.3" fill="#f5fafc" opacity="0.8"/></g><g transform="rotate(24.5 381.5 65.2)"><ellipse cx="381.5" cy="65.2" rx="3.9" ry="3.5" fill="#d7e6f0" stroke="#7396af" stroke-width="1.1"/><ellipse cx="380.6" cy="64.2" rx="1.8" ry="1.3" fill="#f5fafc" opacity="0.8"/></g><g transform="rotate(24.5 377.8 73.0)"><ellipse cx="377.8" cy="73.0" rx="3.9" ry="3.5" fill="#d7e6f0" stroke="#7396af" stroke-width="1.1"/><ellipse cx="376.9" cy="72.0" rx="1.8" ry="1.3" fill="#f5fafc" opacity="0.8"/></g><g transform="rotate(24.5 405.0 38.0)"><ellipse cx="405.0" cy="38.0" rx="3.9" ry="3.5" fill="#d2e2ed" stroke="#8aaabf" stroke-width="1.1"/><ellipse cx="404.1" cy="37.0" rx="1.8" ry="1.3" fill="#f5fafc" opacity="0.8"/></g><g transform="rotate(24.5 401.4 45.8)"><ellipse cx="401.4" cy="45.8" rx="3.9" ry="3.5" fill="#d3e3ee" stroke="#84a5bb" stroke-width="1.1"/><ellipse cx="400.5" cy="44.8" rx="1.8" ry="1.3" fill="#f5fafc" opacity="0.8"/></g><g transform="rotate(24.5 397.8 53.7)"><ellipse cx="397.8" cy="53.7" rx="3.9" ry="3.5" fill="#d4e4ee" stroke="#7fa0b7" stroke-width="1.1"/><ellipse cx="396.9" cy="52.7" rx="1.8" ry="1.3" fill="#f5fafc" opacity="0.8"/></g><g transform="rotate(24.5 394.2 61.5)"><ellipse cx="394.2" cy="61.5" rx="3.9" ry="3.5" fill="#d5e5ef" stroke="#799bb3" stroke-width="1.1"/><ellipse cx="393.3" cy="60.5" rx="1.8" ry="1.3" fill="#f5fafc" opacity="0.8"/></g><g transform="rotate(24.5 390.6 69.3)"><ellipse cx="390.6" cy="69.3" rx="3.9" ry="3.5" fill="#d6e5ef" stroke="#7396af" stroke-width="1.1"/><ellipse cx="389.7" cy="68.3" rx="1.8" ry="1.3" fill="#f5fafc" opacity="0.8"/></g><g transform="rotate(24.5 386.9 77.1)"><ellipse cx="386.9" cy="77.1" rx="3.9" ry="3.5" fill="#d7e6f0" stroke="#7396af" stroke-width="1.1"/><ellipse cx="386.0" cy="76.1" rx="1.8" ry="1.3" fill="#f5fafc" opacity="0.8"/></g><g transform="rotate(24.5 383.3 85.0)"><ellipse cx="383.3" cy="85.0" rx="3.9" ry="3.5" fill="#d7e6f0" stroke="#7396af" stroke-width="1.1"/><ellipse cx="382.4" cy="84.0" rx="1.8" ry="1.3" fill="#f5fafc" opacity="0.8"/></g><g transform="rotate(24.5 379.7 92.8)"><ellipse cx="379.7" cy="92.8" rx="3.9" ry="3.5" fill="#d7e6f0" stroke="#7396af" stroke-width="1.1"/><ellipse cx="378.8" cy="91.8" rx="1.8" ry="1.3" fill="#f5fafc" opacity="0.8"/></g><g transform="rotate(24.5 376.1 100.6)"><ellipse cx="376.1" cy="100.6" rx="3.9" ry="3.5" fill="#d7e6f0" stroke="#7396af" stroke-width="1.1"/><ellipse cx="375.2" cy="99.6" rx="1.8" ry="1.3" fill="#f5fafc" opacity="0.8"/></g><g transform="rotate(24.5 417.7 34.3)"><ellipse cx="417.7" cy="34.3" rx="3.9" ry="3.5" fill="#cfdfeb" stroke="#9ebccd" stroke-width="1.1"/><ellipse cx="416.8" cy="33.3" rx="1.8" ry="1.3" fill="#f5fafc" opacity="0.8"/></g><g transform="rotate(24.5 414.1 42.1)"><ellipse cx="414.1" cy="42.1" rx="3.9" ry="3.5" fill="#d0e0eb" stroke="#98b7c9" stroke-width="1.1"/><ellipse cx="413.2" cy="41.1" rx="1.8" ry="1.3" fill="#f5fafc" opacity="0.8"/></g><g transform="rotate(24.5 410.5 50.0)"><ellipse cx="410.5" cy="50.0" rx="3.9" ry="3.5" fill="#d1e1ec" stroke="#93b2c5" stroke-width="1.1"/><ellipse cx="409.6" cy="49.0" rx="1.8" ry="1.3" fill="#f5fafc" opacity="0.8"/></g><g transform="rotate(24.5 406.9 57.8)"><ellipse cx="406.9" cy="57.8" rx="3.9" ry="3.5" fill="#d2e2ed" stroke="#8dadc1" stroke-width="1.1"/><ellipse cx="406.0" cy="56.8" rx="1.8" ry="1.3" fill="#f5fafc" opacity="0.8"/></g><g transform="rotate(24.5 403.3 65.6)"><ellipse cx="403.3" cy="65.6" rx="3.9" ry="3.5" fill="#d3e2ed" stroke="#87a8bd" stroke-width="1.1"/><ellipse cx="402.4" cy="64.6" rx="1.8" ry="1.3" fill="#f5fafc" opacity="0.8"/></g><g transform="rotate(24.5 399.7 73.5)"><ellipse cx="399.7" cy="73.5" rx="3.9" ry="3.5" fill="#d4e3ee" stroke="#82a3b9" stroke-width="1.1"/><ellipse cx="398.8" cy="72.5" rx="1.8" ry="1.3" fill="#f5fafc" opacity="0.8"/></g><g transform="rotate(24.5 396.0 81.3)"><ellipse cx="396.0" cy="81.3" rx="3.9" ry="3.5" fill="#d5e4ee" stroke="#7c9eb5" stroke-width="1.1"/><ellipse cx="395.1" cy="80.3" rx="1.8" ry="1.3" fill="#f5fafc" opacity="0.8"/></g><g transform="rotate(24.5 392.4 89.1)"><ellipse cx="392.4" cy="89.1" rx="3.9" ry="3.5" fill="#d6e5ef" stroke="#7699b1" stroke-width="1.1"/><ellipse cx="391.5" cy="88.1" rx="1.8" ry="1.3" fill="#f5fafc" opacity="0.8"/></g><g transform="rotate(24.5 388.8 96.9)"><ellipse cx="388.8" cy="96.9" rx="3.9" ry="3.5" fill="#d7e6f0" stroke="#7396af" stroke-width="1.1"/><ellipse cx="387.9" cy="95.9" rx="1.8" ry="1.3" fill="#f5fafc" opacity="0.8"/></g><g transform="rotate(24.5 385.2 104.8)"><ellipse cx="385.2" cy="104.8" rx="3.9" ry="3.5" fill="#d7e6f0" stroke="#7396af" stroke-width="1.1"/><ellipse cx="384.3" cy="103.8" rx="1.8" ry="1.3" fill="#f5fafc" opacity="0.8"/></g><g transform="rotate(24.5 426.8 38.5)"><ellipse cx="426.8" cy="38.5" rx="3.9" ry="3.5" fill="#c7dbe7" stroke="#a7c5d4" stroke-width="1.1"/><ellipse cx="425.9" cy="37.5" rx="1.8" ry="1.3" fill="#f3f9fb" opacity="0.8"/></g><g transform="rotate(24.5 423.2 46.3)"><ellipse cx="423.2" cy="46.3" rx="3.9" ry="3.5" fill="#c6dbe6" stroke="#a3c2d1" stroke-width="1.1"/><ellipse cx="422.3" cy="45.3" rx="1.8" ry="1.3" fill="#f2f9fb" opacity="0.8"/></g><g transform="rotate(24.5 419.6 54.1)"><ellipse cx="419.6" cy="54.1" rx="3.9" ry="3.5" fill="#bcd8e1" stroke="#99bccb" stroke-width="1.1"/><ellipse cx="418.7" cy="53.1" rx="1.8" ry="1.3" fill="#eff8fa" opacity="0.8"/></g><g transform="rotate(24.5 416.0 61.9)"><ellipse cx="416.0" cy="61.9" rx="3.9" ry="3.5" fill="#cfe0eb" stroke="#9bb9cb" stroke-width="1.1"/><ellipse cx="415.1" cy="60.9" rx="1.8" ry="1.3" fill="#f5fafc" opacity="0.8"/></g><g transform="rotate(24.5 412.4 69.8)"><ellipse cx="412.4" cy="69.8" rx="3.9" ry="3.5" fill="#d0e0ec" stroke="#96b4c7" stroke-width="1.1"/><ellipse cx="411.5" cy="68.8" rx="1.8" ry="1.3" fill="#f5fafc" opacity="0.8"/></g><g transform="rotate(24.5 408.8 77.6)"><ellipse cx="408.8" cy="77.6" rx="3.9" ry="3.5" fill="#d1e1ec" stroke="#90afc3" stroke-width="1.1"/><ellipse cx="407.9" cy="76.6" rx="1.8" ry="1.3" fill="#f5fafc" opacity="0.8"/></g><g transform="rotate(24.5 405.1 85.4)"><ellipse cx="405.1" cy="85.4" rx="3.9" ry="3.5" fill="#d2e2ed" stroke="#8aaabf" stroke-width="1.1"/><ellipse cx="404.2" cy="84.4" rx="1.8" ry="1.3" fill="#f5fafc" opacity="0.8"/></g><g transform="rotate(24.5 401.5 93.2)"><ellipse cx="401.5" cy="93.2" rx="3.9" ry="3.5" fill="#d3e3ee" stroke="#85a5bb" stroke-width="1.1"/><ellipse cx="400.6" cy="92.2" rx="1.8" ry="1.3" fill="#f5fafc" opacity="0.8"/></g><g transform="rotate(24.5 397.9 101.1)"><ellipse cx="397.9" cy="101.1" rx="3.9" ry="3.5" fill="#d4e4ee" stroke="#7fa0b7" stroke-width="1.1"/><ellipse cx="397.0" cy="100.1" rx="1.8" ry="1.3" fill="#f5fafc" opacity="0.8"/></g><g transform="rotate(24.5 394.3 108.9)"><ellipse cx="394.3" cy="108.9" rx="3.9" ry="3.5" fill="#d5e5ef" stroke="#799bb3" stroke-width="1.1"/><ellipse cx="393.4" cy="107.9" rx="1.8" ry="1.3" fill="#f5fafc" opacity="0.8"/></g><g transform="rotate(24.5 439.5 34.8)"><ellipse cx="439.5" cy="34.8" rx="3.9" ry="3.5" fill="#9eccd3" stroke="#94bfcb" stroke-width="1.1"/><ellipse cx="438.6" cy="33.8" rx="1.8" ry="1.3" fill="#e5f6f7" opacity="0.8"/></g><g transform="rotate(24.5 435.9 42.6)"><ellipse cx="435.9" cy="42.6" rx="3.9" ry="3.5" fill="#9eccd4" stroke="#94bfcb" stroke-width="1.1"/><ellipse cx="435.0" cy="41.6" rx="1.8" ry="1.3" fill="#e5f6f7" opacity="0.8"/></g><g transform="rotate(24.5 432.3 50.4)"><ellipse cx="432.3" cy="50.4" rx="3.9" ry="3.5" fill="#86c3c8" stroke="#89bcc6" stroke-width="1.1"/><ellipse cx="431.4" cy="49.4" rx="1.8" ry="1.3" fill="#ddf4f5" opacity="0.8"/></g><g transform="rotate(24.5 428.7 58.3)"><ellipse cx="428.7" cy="58.3" rx="3.9" ry="3.5" fill="#85c3c8" stroke="#89bbc6" stroke-width="1.1"/><ellipse cx="427.8" cy="57.3" rx="1.8" ry="1.3" fill="#ddf4f5" opacity="0.8"/></g><g transform="rotate(24.5 425.1 66.1)"><ellipse cx="425.1" cy="66.1" rx="3.9" ry="3.5" fill="#9bcbd2" stroke="#93bfcb" stroke-width="1.1"/><ellipse cx="424.2" cy="65.1" rx="1.8" ry="1.3" fill="#e4f6f7" opacity="0.8"/></g><g transform="rotate(24.5 421.5 73.9)"><ellipse cx="421.5" cy="73.9" rx="3.9" ry="3.5" fill="#cedeea" stroke="#a4c1d2" stroke-width="1.1"/><ellipse cx="420.6" cy="72.9" rx="1.8" ry="1.3" fill="#f5fafc" opacity="0.8"/></g><g transform="rotate(24.5 417.9 81.7)"><ellipse cx="417.9" cy="81.7" rx="3.9" ry="3.5" fill="#cfdfeb" stroke="#9ebcce" stroke-width="1.1"/><ellipse cx="417.0" cy="80.7" rx="1.8" ry="1.3" fill="#f5fafc" opacity="0.8"/></g><g transform="rotate(24.5 414.2 89.6)"><ellipse cx="414.2" cy="89.6" rx="3.9" ry="3.5" fill="#d0e0eb" stroke="#99b7ca" stroke-width="1.1"/><ellipse cx="413.3" cy="88.6" rx="1.8" ry="1.3" fill="#f5fafc" opacity="0.8"/></g><g transform="rotate(24.5 410.6 97.4)"><ellipse cx="410.6" cy="97.4" rx="3.9" ry="3.5" fill="#d1e1ec" stroke="#93b2c5" stroke-width="1.1"/><ellipse cx="409.7" cy="96.4" rx="1.8" ry="1.3" fill="#f5fafc" opacity="0.8"/></g><g transform="rotate(24.5 407.0 105.2)"><ellipse cx="407.0" cy="105.2" rx="3.9" ry="3.5" fill="#d2e2ed" stroke="#8dadc1" stroke-width="1.1"/><ellipse cx="406.1" cy="104.2" rx="1.8" ry="1.3" fill="#f5fafc" opacity="0.8"/></g><g transform="rotate(24.5 448.6 38.9)"><ellipse cx="448.6" cy="38.9" rx="3.9" ry="3.5" fill="#80c1c6" stroke="#87bbc5" stroke-width="1.1"/><ellipse cx="447.7" cy="37.9" rx="1.8" ry="1.3" fill="#dbf4f4" opacity="0.8"/></g><g transform="rotate(24.5 445.0 46.8)"><ellipse cx="445.0" cy="46.8" rx="3.9" ry="3.5" fill="#72bbbf" stroke="#80b9c2" stroke-width="1.1"/><ellipse cx="444.1" cy="45.8" rx="1.8" ry="1.3" fill="#d6f3f3" opacity="0.8"/></g><g transform="rotate(24.5 441.4 54.6)"><ellipse cx="441.4" cy="54.6" rx="3.9" ry="3.5" fill="#5bb3b4" stroke="#76b6bd" stroke-width="1.1"/><ellipse cx="440.5" cy="53.6" rx="1.8" ry="1.3" fill="#cff1f0" opacity="0.8"/></g><g transform="rotate(24.5 437.8 62.4)"><ellipse cx="437.8" cy="62.4" rx="3.9" ry="3.5" fill="#62b5b7" stroke="#79b7be" stroke-width="1.1"/><ellipse cx="436.9" cy="61.4" rx="1.8" ry="1.3" fill="#d1f2f1" opacity="0.8"/></g><g transform="rotate(24.5 434.2 70.2)"><ellipse cx="434.2" cy="70.2" rx="3.9" ry="3.5" fill="#81c1c6" stroke="#87bbc5" stroke-width="1.1"/><ellipse cx="433.3" cy="69.2" rx="1.8" ry="1.3" fill="#dbf4f4" opacity="0.8"/></g><g transform="rotate(24.5 430.6 78.1)"><ellipse cx="430.6" cy="78.1" rx="3.9" ry="3.5" fill="#b7d6df" stroke="#a0c3d1" stroke-width="1.1"/><ellipse cx="429.7" cy="77.1" rx="1.8" ry="1.3" fill="#edf8f9" opacity="0.8"/></g><g transform="rotate(24.5 427.0 85.9)"><ellipse cx="427.0" cy="85.9" rx="3.9" ry="3.5" fill="#c6dbe7" stroke="#a7c5d4" stroke-width="1.1"/><ellipse cx="426.1" cy="84.9" rx="1.8" ry="1.3" fill="#f2f9fb" opacity="0.8"/></g><g transform="rotate(24.5 423.3 93.7)"><ellipse cx="423.3" cy="93.7" rx="3.9" ry="3.5" fill="#cddeea" stroke="#a7c3d4" stroke-width="1.1"/><ellipse cx="422.4" cy="92.7" rx="1.8" ry="1.3" fill="#f5fafc" opacity="0.8"/></g><g transform="rotate(24.5 419.7 101.5)"><ellipse cx="419.7" cy="101.5" rx="3.9" ry="3.5" fill="#cedfea" stroke="#a1bed0" stroke-width="1.1"/><ellipse cx="418.8" cy="100.5" rx="1.8" ry="1.3" fill="#f5fafc" opacity="0.8"/></g><g transform="rotate(24.5 416.1 109.4)"><ellipse cx="416.1" cy="109.4" rx="3.9" ry="3.5" fill="#cfe0eb" stroke="#9cb9cc" stroke-width="1.1"/><ellipse cx="415.2" cy="108.4" rx="1.8" ry="1.3" fill="#f5fafc" opacity="0.8"/></g><g transform="rotate(24.5 457.7 43.1)"><ellipse cx="457.7" cy="43.1" rx="3.9" ry="3.5" fill="#63b6b8" stroke="#7ab7bf" stroke-width="1.1"/><ellipse cx="456.8" cy="42.1" rx="1.8" ry="1.3" fill="#d1f2f1" opacity="0.8"/></g><g transform="rotate(24.5 454.1 50.9)"><ellipse cx="454.1" cy="50.9" rx="3.9" ry="3.5" fill="#53b0b0" stroke="#72b4bb" stroke-width="1.1"/><ellipse cx="453.2" cy="49.9" rx="1.8" ry="1.3" fill="#ccf1f0" opacity="0.8"/></g><g transform="rotate(24.5 450.5 58.7)"><ellipse cx="450.5" cy="58.7" rx="3.9" ry="3.5" fill="#37a5a3" stroke="#65b1b5" stroke-width="1.1"/><ellipse cx="449.6" cy="57.7" rx="1.8" ry="1.3" fill="#c3efed" opacity="0.8"/></g><g transform="rotate(24.5 446.9 66.6)"><ellipse cx="446.9" cy="66.6" rx="3.9" ry="3.5" fill="#50afaf" stroke="#71b4ba" stroke-width="1.1"/><ellipse cx="446.0" cy="65.6" rx="1.8" ry="1.3" fill="#cbf0ef" opacity="0.8"/></g><g transform="rotate(24.5 443.3 74.4)"><ellipse cx="443.3" cy="74.4" rx="3.9" ry="3.5" fill="#7bbfc3" stroke="#84bac4" stroke-width="1.1"/><ellipse cx="442.4" cy="73.4" rx="1.8" ry="1.3" fill="#d9f4f4" opacity="0.8"/></g><g transform="rotate(24.5 439.7 82.2)"><ellipse cx="439.7" cy="82.2" rx="3.9" ry="3.5" fill="#9dccd3" stroke="#94bfcb" stroke-width="1.1"/><ellipse cx="438.8" cy="81.2" rx="1.8" ry="1.3" fill="#e5f6f7" opacity="0.8"/></g><g transform="rotate(24.5 436.1 90.0)"><ellipse cx="436.1" cy="90.0" rx="3.9" ry="3.5" fill="#a9d0d9" stroke="#99c1ce" stroke-width="1.1"/><ellipse cx="435.2" cy="89.0" rx="1.8" ry="1.3" fill="#e9f7f8" opacity="0.8"/></g><g transform="rotate(24.5 432.4 97.9)"><ellipse cx="432.4" cy="97.9" rx="3.9" ry="3.5" fill="#b5d5de" stroke="#9fc2d0" stroke-width="1.1"/><ellipse cx="431.5" cy="96.9" rx="1.8" ry="1.3" fill="#edf8f9" opacity="0.8"/></g><g transform="rotate(24.5 428.8 105.7)"><ellipse cx="428.8" cy="105.7" rx="3.9" ry="3.5" fill="#c3dae5" stroke="#a5c4d4" stroke-width="1.1"/><ellipse cx="427.9" cy="104.7" rx="1.8" ry="1.3" fill="#f1f9fb" opacity="0.8"/></g><g transform="rotate(24.5 466.8 47.2)"><ellipse cx="466.8" cy="47.2" rx="3.9" ry="3.5" fill="#4cadad" stroke="#6fb4b9" stroke-width="1.1"/><ellipse cx="465.9" cy="46.2" rx="1.8" ry="1.3" fill="#caf0ef" opacity="0.8"/></g><g transform="rotate(24.5 463.2 55.1)"><ellipse cx="463.2" cy="55.1" rx="3.9" ry="3.5" fill="#4aadac" stroke="#6eb3b9" stroke-width="1.1"/><ellipse cx="462.3" cy="54.1" rx="1.8" ry="1.3" fill="#c9f0ef" opacity="0.8"/></g><g transform="rotate(24.5 459.6 62.9)"><ellipse cx="459.6" cy="62.9" rx="3.9" ry="3.5" fill="#3ba7a5" stroke="#67b1b6" stroke-width="1.1"/><ellipse cx="458.7" cy="61.9" rx="1.8" ry="1.3" fill="#c4efed" opacity="0.8"/></g><g transform="rotate(24.5 456.0 70.7)"><ellipse cx="456.0" cy="70.7" rx="3.9" ry="3.5" fill="#5bb3b4" stroke="#76b6bd" stroke-width="1.1"/><ellipse cx="455.1" cy="69.7" rx="1.8" ry="1.3" fill="#cff1f0" opacity="0.8"/></g><g transform="rotate(24.5 452.4 78.5)"><ellipse cx="452.4" cy="78.5" rx="3.9" ry="3.5" fill="#74bcc0" stroke="#81b9c2" stroke-width="1.1"/><ellipse cx="451.5" cy="77.5" rx="1.8" ry="1.3" fill="#d7f3f3" opacity="0.8"/></g><g transform="rotate(24.5 448.8 86.4)"><ellipse cx="448.8" cy="86.4" rx="3.9" ry="3.5" fill="#80c1c5" stroke="#87bbc5" stroke-width="1.1"/><ellipse cx="447.9" cy="85.4" rx="1.8" ry="1.3" fill="#dbf4f4" opacity="0.8"/></g><g transform="rotate(24.5 445.1 94.2)"><ellipse cx="445.1" cy="94.2" rx="3.9" ry="3.5" fill="#8cc5cb" stroke="#8cbcc7" stroke-width="1.1"/><ellipse cx="444.2" cy="93.2" rx="1.8" ry="1.3" fill="#dff5f5" opacity="0.8"/></g><g transform="rotate(24.5 441.5 102.0)"><ellipse cx="441.5" cy="102.0" rx="3.9" ry="3.5" fill="#9eccd4" stroke="#95bfcb" stroke-width="1.1"/><ellipse cx="440.6" cy="101.0" rx="1.8" ry="1.3" fill="#e5f6f7" opacity="0.8"/></g><g transform="rotate(24.5 437.9 109.8)"><ellipse cx="437.9" cy="109.8" rx="3.9" ry="3.5" fill="#b3d4de" stroke="#9ec2d0" stroke-width="1.1"/><ellipse cx="437.0" cy="108.8" rx="1.8" ry="1.3" fill="#ecf8f9" opacity="0.8"/></g><g transform="rotate(24.5 475.9 51.4)"><ellipse cx="475.9" cy="51.4" rx="3.9" ry="3.5" fill="#4cadad" stroke="#6fb4b9" stroke-width="1.1"/><ellipse cx="475.0" cy="50.4" rx="1.8" ry="1.3" fill="#caf0ef" opacity="0.8"/></g><g transform="rotate(24.5 472.3 59.2)"><ellipse cx="472.3" cy="59.2" rx="3.9" ry="3.5" fill="#4cadad" stroke="#6fb4b9" stroke-width="1.1"/><ellipse cx="471.4" cy="58.2" rx="1.8" ry="1.3" fill="#caf0ef" opacity="0.8"/></g><g transform="rotate(24.5 468.7 67.0)"><ellipse cx="468.7" cy="67.0" rx="3.9" ry="3.5" fill="#4cadad" stroke="#6fb4b9" stroke-width="1.1"/><ellipse cx="467.8" cy="66.0" rx="1.8" ry="1.3" fill="#caf0ef" opacity="0.8"/></g><g transform="rotate(24.5 465.1 74.9)"><ellipse cx="465.1" cy="74.9" rx="3.9" ry="3.5" fill="#4cadad" stroke="#6fb4b9" stroke-width="1.1"/><ellipse cx="464.2" cy="73.9" rx="1.8" ry="1.3" fill="#caf0ef" opacity="0.8"/></g><g transform="rotate(24.5 461.5 82.7)"><ellipse cx="461.5" cy="82.7" rx="3.9" ry="3.5" fill="#57b1b2" stroke="#74b5bc" stroke-width="1.1"/><ellipse cx="460.6" cy="81.7" rx="1.8" ry="1.3" fill="#cdf1f0" opacity="0.8"/></g><g transform="rotate(24.5 457.9 90.5)"><ellipse cx="457.9" cy="90.5" rx="3.9" ry="3.5" fill="#63b6b8" stroke="#79b7be" stroke-width="1.1"/><ellipse cx="457.0" cy="89.5" rx="1.8" ry="1.3" fill="#d1f2f1" opacity="0.8"/></g><g transform="rotate(24.5 454.2 98.3)"><ellipse cx="454.2" cy="98.3" rx="3.9" ry="3.5" fill="#6fbbbe" stroke="#7fb9c1" stroke-width="1.1"/><ellipse cx="453.3" cy="97.3" rx="1.8" ry="1.3" fill="#d5f3f2" opacity="0.8"/></g><g transform="rotate(24.5 450.6 106.2)"><ellipse cx="450.6" cy="106.2" rx="3.9" ry="3.5" fill="#90c7cd" stroke="#8ebdc8" stroke-width="1.1"/><ellipse cx="449.7" cy="105.2" rx="1.8" ry="1.3" fill="#e0f5f6" opacity="0.8"/></g><g transform="rotate(24.5 485.0 55.5)"><ellipse cx="485.0" cy="55.5" rx="3.9" ry="3.5" fill="#4cadad" stroke="#6fb4b9" stroke-width="1.1"/><ellipse cx="484.1" cy="54.5" rx="1.8" ry="1.3" fill="#caf0ef" opacity="0.8"/></g><g transform="rotate(24.5 481.4 63.3)"><ellipse cx="481.4" cy="63.3" rx="3.9" ry="3.5" fill="#4cadad" stroke="#6fb4b9" stroke-width="1.1"/><ellipse cx="480.5" cy="62.3" rx="1.8" ry="1.3" fill="#caf0ef" opacity="0.8"/></g><g transform="rotate(24.5 477.8 71.2)"><ellipse cx="477.8" cy="71.2" rx="3.9" ry="3.5" fill="#4cadad" stroke="#6fb4b9" stroke-width="1.1"/><ellipse cx="476.9" cy="70.2" rx="1.8" ry="1.3" fill="#caf0ef" opacity="0.8"/></g><g transform="rotate(24.5 474.2 79.0)"><ellipse cx="474.2" cy="79.0" rx="3.9" ry="3.5" fill="#4cadad" stroke="#6fb4b9" stroke-width="1.1"/><ellipse cx="473.3" cy="78.0" rx="1.8" ry="1.3" fill="#caf0ef" opacity="0.8"/></g><g transform="rotate(24.5 470.6 86.8)"><ellipse cx="470.6" cy="86.8" rx="3.9" ry="3.5" fill="#4cadad" stroke="#6fb4b9" stroke-width="1.1"/><ellipse cx="469.7" cy="85.8" rx="1.8" ry="1.3" fill="#caf0ef" opacity="0.8"/></g><g transform="rotate(24.5 467.0 94.7)"><ellipse cx="467.0" cy="94.7" rx="3.9" ry="3.5" fill="#4cadad" stroke="#6fb4b9" stroke-width="1.1"/><ellipse cx="466.1" cy="93.7" rx="1.8" ry="1.3" fill="#caf0ef" opacity="0.8"/></g><g transform="rotate(24.5 463.3 102.5)"><ellipse cx="463.3" cy="102.5" rx="3.9" ry="3.5" fill="#64b6b8" stroke="#7ab7bf" stroke-width="1.1"/><ellipse cx="462.4" cy="101.5" rx="1.8" ry="1.3" fill="#d2f2f1" opacity="0.8"/></g><g transform="rotate(24.5 459.7 110.3)"><ellipse cx="459.7" cy="110.3" rx="3.9" ry="3.5" fill="#8bc5ca" stroke="#8cbcc7" stroke-width="1.1"/><ellipse cx="458.8" cy="109.3" rx="1.8" ry="1.3" fill="#dff5f5" opacity="0.8"/></g><g transform="rotate(24.5 494.1 59.7)"><ellipse cx="494.1" cy="59.7" rx="3.9" ry="3.5" fill="#4cadad" stroke="#6fb4b9" stroke-width="1.1"/><ellipse cx="493.2" cy="58.7" rx="1.8" ry="1.3" fill="#caf0ef" opacity="0.8"/></g><g transform="rotate(24.5 490.5 67.5)"><ellipse cx="490.5" cy="67.5" rx="3.9" ry="3.5" fill="#4cadad" stroke="#6fb4b9" stroke-width="1.1"/><ellipse cx="489.6" cy="66.5" rx="1.8" ry="1.3" fill="#caf0ef" opacity="0.8"/></g><g transform="rotate(24.5 486.9 75.3)"><ellipse cx="486.9" cy="75.3" rx="3.9" ry="3.5" fill="#4cadad" stroke="#6fb4b9" stroke-width="1.1"/><ellipse cx="486.0" cy="74.3" rx="1.8" ry="1.3" fill="#caf0ef" opacity="0.8"/></g><g transform="rotate(24.5 483.3 83.1)"><ellipse cx="483.3" cy="83.1" rx="3.9" ry="3.5" fill="#4cadad" stroke="#6fb4b9" stroke-width="1.1"/><ellipse cx="482.4" cy="82.1" rx="1.8" ry="1.3" fill="#caf0ef" opacity="0.8"/></g><g transform="rotate(24.5 479.7 91.0)"><ellipse cx="479.7" cy="91.0" rx="3.9" ry="3.5" fill="#4cadad" stroke="#6fb4b9" stroke-width="1.1"/><ellipse cx="478.8" cy="90.0" rx="1.8" ry="1.3" fill="#caf0ef" opacity="0.8"/></g><g transform="rotate(24.5 476.1 98.8)"><ellipse cx="476.1" cy="98.8" rx="3.9" ry="3.5" fill="#4faeae" stroke="#71b4ba" stroke-width="1.1"/><ellipse cx="475.2" cy="97.8" rx="1.8" ry="1.3" fill="#cbf0ef" opacity="0.8"/></g><g transform="rotate(24.5 472.4 106.6)"><ellipse cx="472.4" cy="106.6" rx="3.9" ry="3.5" fill="#71bbbe" stroke="#80b9c1" stroke-width="1.1"/><ellipse cx="471.5" cy="105.6" rx="1.8" ry="1.3" fill="#d6f3f3" opacity="0.8"/></g><g transform="rotate(24.5 503.2 63.8)"><ellipse cx="503.2" cy="63.8" rx="3.9" ry="3.5" fill="#4cadad" stroke="#6fb4b9" stroke-width="1.1"/><ellipse cx="502.3" cy="62.8" rx="1.8" ry="1.3" fill="#caf0ef" opacity="0.8"/></g><g transform="rotate(24.5 499.6 71.6)"><ellipse cx="499.6" cy="71.6" rx="3.9" ry="3.5" fill="#4cadad" stroke="#6fb4b9" stroke-width="1.1"/><ellipse cx="498.7" cy="70.6" rx="1.8" ry="1.3" fill="#caf0ef" opacity="0.8"/></g><g transform="rotate(24.5 496.0 79.5)"><ellipse cx="496.0" cy="79.5" rx="3.9" ry="3.5" fill="#4cadad" stroke="#6fb4b9" stroke-width="1.1"/><ellipse cx="495.1" cy="78.5" rx="1.8" ry="1.3" fill="#caf0ef" opacity="0.8"/></g><g transform="rotate(24.5 492.4 87.3)"><ellipse cx="492.4" cy="87.3" rx="3.9" ry="3.5" fill="#4cadad" stroke="#6fb4b9" stroke-width="1.1"/><ellipse cx="491.5" cy="86.3" rx="1.8" ry="1.3" fill="#caf0ef" opacity="0.8"/></g><g transform="rotate(24.5 488.8 95.1)"><ellipse cx="488.8" cy="95.1" rx="3.9" ry="3.5" fill="#4cadad" stroke="#6fb4b9" stroke-width="1.1"/><ellipse cx="487.9" cy="94.1" rx="1.8" ry="1.3" fill="#caf0ef" opacity="0.8"/></g><g transform="rotate(24.5 485.2 102.9)"><ellipse cx="485.2" cy="102.9" rx="3.9" ry="3.5" fill="#61b5b7" stroke="#79b7be" stroke-width="1.1"/><ellipse cx="484.3" cy="101.9" rx="1.8" ry="1.3" fill="#d1f2f1" opacity="0.8"/></g><g transform="rotate(24.5 481.5 110.8)"><ellipse cx="481.5" cy="110.8" rx="3.9" ry="3.5" fill="#83c2c7" stroke="#88bbc5" stroke-width="1.1"/><ellipse cx="480.6" cy="109.8" rx="1.8" ry="1.3" fill="#dcf4f4" opacity="0.8"/></g><g transform="rotate(24.5 512.3 68.0)"><ellipse cx="512.3" cy="68.0" rx="3.9" ry="3.5" fill="#4cadad" stroke="#6fb4b9" stroke-width="1.1"/><ellipse cx="511.4" cy="67.0" rx="1.8" ry="1.3" fill="#caf0ef" opacity="0.8"/></g><g transform="rotate(24.5 508.7 75.8)"><ellipse cx="508.7" cy="75.8" rx="3.9" ry="3.5" fill="#4cadad" stroke="#6fb4b9" stroke-width="1.1"/><ellipse cx="507.8" cy="74.8" rx="1.8" ry="1.3" fill="#caf0ef" opacity="0.8"/></g><g transform="rotate(24.5 505.1 83.6)"><ellipse cx="505.1" cy="83.6" rx="3.9" ry="3.5" fill="#4cadad" stroke="#6fb4b9" stroke-width="1.1"/><ellipse cx="504.2" cy="82.6" rx="1.8" ry="1.3" fill="#caf0ef" opacity="0.8"/></g><g transform="rotate(24.5 501.5 91.4)"><ellipse cx="501.5" cy="91.4" rx="3.9" ry="3.5" fill="#4cadad" stroke="#6fb4b9" stroke-width="1.1"/><ellipse cx="500.6" cy="90.4" rx="1.8" ry="1.3" fill="#caf0ef" opacity="0.8"/></g><g transform="rotate(24.5 497.9 99.3)"><ellipse cx="497.9" cy="99.3" rx="3.9" ry="3.5" fill="#51afaf" stroke="#71b4bb" stroke-width="1.1"/><ellipse cx="497.0" cy="98.3" rx="1.8" ry="1.3" fill="#cbf1f0" opacity="0.8"/></g><g transform="rotate(24.5 494.3 107.1)"><ellipse cx="494.3" cy="107.1" rx="3.9" ry="3.5" fill="#73bcbf" stroke="#81b9c2" stroke-width="1.1"/><ellipse cx="493.4" cy="106.1" rx="1.8" ry="1.3" fill="#d7f3f3" opacity="0.8"/></g><g transform="rotate(24.5 517.8 79.9)"><ellipse cx="517.8" cy="79.9" rx="3.9" ry="3.5" fill="#4cadad" stroke="#6fb4b9" stroke-width="1.1"/><ellipse cx="516.9" cy="78.9" rx="1.8" ry="1.3" fill="#caf0ef" opacity="0.8"/></g><g transform="rotate(24.5 514.2 87.8)"><ellipse cx="514.2" cy="87.8" rx="3.9" ry="3.5" fill="#4cadad" stroke="#6fb4b9" stroke-width="1.1"/><ellipse cx="513.3" cy="86.8" rx="1.8" ry="1.3" fill="#caf0ef" opacity="0.8"/></g><g transform="rotate(24.5 510.6 95.6)"><ellipse cx="510.6" cy="95.6" rx="3.9" ry="3.5" fill="#4cadad" stroke="#6fb4b9" stroke-width="1.1"/><ellipse cx="509.7" cy="94.6" rx="1.8" ry="1.3" fill="#caf0ef" opacity="0.8"/></g><g transform="rotate(24.5 507.0 103.4)"><ellipse cx="507.0" cy="103.4" rx="3.9" ry="3.5" fill="#63b6b8" stroke="#7ab7be" stroke-width="1.1"/><ellipse cx="506.1" cy="102.4" rx="1.8" ry="1.3" fill="#d1f2f1" opacity="0.8"/></g><g transform="rotate(24.5 503.4 111.2)"><ellipse cx="503.4" cy="111.2" rx="3.9" ry="3.5" fill="#85c2c8" stroke="#89bbc6" stroke-width="1.1"/><ellipse cx="502.5" cy="110.2" rx="1.8" ry="1.3" fill="#ddf4f5" opacity="0.8"/></g><g transform="rotate(24.5 519.7 99.7)"><ellipse cx="519.7" cy="99.7" rx="3.9" ry="3.5" fill="#53b0b0" stroke="#72b5bb" stroke-width="1.1"/><ellipse cx="518.8" cy="98.7" rx="1.8" ry="1.3" fill="#ccf1f0" opacity="0.8"/></g><g transform="rotate(24.5 516.1 107.6)"><ellipse cx="516.1" cy="107.6" rx="3.9" ry="3.5" fill="#75bdc0" stroke="#82b9c2" stroke-width="1.1"/><ellipse cx="515.2" cy="106.6" rx="1.8" ry="1.3" fill="#d7f3f3" opacity="0.8"/></g></g></g><rect x="381" y="97" width="134" height="2.5" fill="#e6f4f4" opacity="0.5"/><path d="M407,40 L412,40 L385,72 L381,72 L381,69 Z" fill="#b4cad6"/><path d="M381,40 L406,40 L381,69 Z" fill="#3e5c70"/><path d="M381,40 L394,40 L381,55 Z" fill="#4a687c"/><path d="M381,48 L387,52 L381,57 Z" fill="#d0e2ea"/><path d="M381,91 Q388,99 399,107 L381,107 Z" fill="#2e5470"/><path d="M508,58 L514.5,60 L514.5,107 L508,107 Z" fill="#c4e0e6" opacity="0.75"/><path d="M463,40 L468,40 L514.5,61 L514.5,65 Z" fill="#d6ebf0" opacity="0.9"/><path d="M468,40 L514.5,40 L514.5,61 Z" fill="#27363f"/><path d="M490,40 L514.5,40 L514.5,47 Z" fill="#4a5961"/></g>
<text x="0.6" y="151.7" font-size="11.0" text-anchor="start" fill="#000" font-weight="bold" >B</text>
<rect x="42.30" y="207.70" width="85.00" height="95.95" fill="#eaeaea"/>
<rect x="43.70" y="209.10" width="27.45" height="31.10" fill="#ffa08e"/>
<text x="59.50" y="226.03" font-size="6.7" text-anchor="middle" fill="#2b2b2b" font-weight="normal" stroke="#2b2b2b" stroke-width="0.12" >26.55</text>
<rect x="71.10" y="209.10" width="27.45" height="31.10" fill="#fc6c59"/>
<text x="86.90" y="226.03" font-size="6.7" text-anchor="middle" fill="#2b2b2b" font-weight="normal" stroke="#2b2b2b" stroke-width="0.12" >39.97</text>
<rect x="98.50" y="209.10" width="27.45" height="31.10" fill="#ec1c22"/>
<text x="114.30" y="226.03" font-size="6.7" text-anchor="middle" fill="#2b2b2b" font-weight="normal" stroke="#2b2b2b" stroke-width="0.12" >54.34</text>
<rect x="43.70" y="240.15" width="27.45" height="31.10" fill="#ffa493"/>
<text x="59.50" y="257.07" font-size="6.7" text-anchor="middle" fill="#2b2b2b" font-weight="normal" stroke="#2b2b2b" stroke-width="0.12" >25.33</text>
<rect x="71.10" y="240.15" width="27.45" height="31.10" fill="#fd705c"/>
<text x="86.90" y="257.07" font-size="6.7" text-anchor="middle" fill="#2b2b2b" font-weight="normal" stroke="#2b2b2b" stroke-width="0.12" >39.01</text>
<rect x="98.50" y="240.15" width="27.45" height="31.10" fill="#fc6b57"/>
<text x="114.30" y="257.07" font-size="6.7" text-anchor="middle" fill="#2b2b2b" font-weight="normal" stroke="#2b2b2b" stroke-width="0.12" >40.38</text>
<rect x="43.70" y="271.20" width="27.45" height="31.10" fill="#ffffff"/>
<text x="59.50" y="288.12" font-size="6.7" text-anchor="middle" fill="#2b2b2b" font-weight="normal" stroke="#2b2b2b" stroke-width="0.12" >0</text>
<rect x="71.10" y="271.20" width="27.45" height="31.10" fill="#ffbeb0"/>
<text x="86.90" y="288.12" font-size="6.7" text-anchor="middle" fill="#2b2b2b" font-weight="normal" stroke="#2b2b2b" stroke-width="0.12" >18.15</text>
<rect x="98.50" y="271.20" width="27.45" height="31.10" fill="#ff9b89"/>
<text x="114.30" y="288.12" font-size="6.7" text-anchor="middle" fill="#2b2b2b" font-weight="normal" stroke="#2b2b2b" stroke-width="0.12" >27.78</text>
<text x="84.80" y="202.30" font-size="7.8" text-anchor="middle" fill="#231f20" font-weight="normal" stroke="#231f20" stroke-width="0.12" >Inhibition (%)</text>
<text x="37.10" y="227.29" font-size="7.4" text-anchor="end" fill="#231f20" font-weight="normal" stroke="#231f20" stroke-width="0.12" >20</text>
<line x1="40.300000000000004" y1="224.62" x2="41.7" y2="224.62" stroke="#666" stroke-width="0.8"/>
<text x="37.10" y="258.34" font-size="7.4" text-anchor="end" fill="#231f20" font-weight="normal" stroke="#231f20" stroke-width="0.12" >5</text>
<line x1="40.300000000000004" y1="255.68" x2="41.7" y2="255.68" stroke="#666" stroke-width="0.8"/>
<text x="37.10" y="289.39" font-size="7.4" text-anchor="end" fill="#231f20" font-weight="normal" stroke="#231f20" stroke-width="0.12" >0</text>
<line x1="40.300000000000004" y1="286.73" x2="41.7" y2="286.73" stroke="#666" stroke-width="0.8"/>
<text x="56.50" y="313.25" font-size="7.4" text-anchor="middle" fill="#231f20" font-weight="normal" stroke="#231f20" stroke-width="0.12" >0</text>
<line x1="57.40" y1="304.25" x2="57.40" y2="305.45" stroke="#666" stroke-width="0.8"/>
<text x="83.90" y="313.25" font-size="7.4" text-anchor="middle" fill="#231f20" font-weight="normal" stroke="#231f20" stroke-width="0.12" >10</text>
<line x1="84.80" y1="304.25" x2="84.80" y2="305.45" stroke="#666" stroke-width="0.8"/>
<text x="111.30" y="313.25" font-size="7.4" text-anchor="middle" fill="#231f20" font-weight="normal" stroke="#231f20" stroke-width="0.12" >40</text>
<line x1="112.20" y1="304.25" x2="112.20" y2="305.45" stroke="#666" stroke-width="0.8"/>
<text x="84.80" y="323.05" font-size="7.75" text-anchor="middle" fill="#231f20" font-weight="normal" stroke="#231f20" stroke-width="0.12" >ICG001 (μmol/L)</text>
<text x="23.70" y="254.38" font-size="7.3" text-anchor="middle" fill="#231f20" stroke="#231f20" stroke-width="0.12" transform="rotate(-90 23.70 254.38)">YM155 (μmol/L)</text>
<rect x="159.00" y="156.40" width="85.00" height="95.95" fill="#eaeaea"/>
<rect x="160.40" y="157.80" width="27.45" height="31.10" fill="#ffa290"/>
<text x="176.10" y="174.83" font-size="6.7" text-anchor="middle" fill="#2b2b2b" font-weight="normal" stroke="#2b2b2b" stroke-width="0.12" >26.55</text>
<rect x="187.80" y="157.80" width="27.45" height="31.10" fill="#fd6d5a"/>
<text x="203.50" y="174.83" font-size="6.7" text-anchor="middle" fill="#2b2b2b" font-weight="normal" stroke="#2b2b2b" stroke-width="0.12" >40.43</text>
<rect x="215.20" y="157.80" width="27.45" height="31.10" fill="#ec1c22"/>
<text x="230.90" y="174.83" font-size="6.7" text-anchor="middle" fill="#2b2b2b" font-weight="normal" stroke="#2b2b2b" stroke-width="0.12" >55.34</text>
<rect x="160.40" y="188.85" width="27.45" height="31.10" fill="#ffa694"/>
<text x="176.10" y="205.88" font-size="6.7" text-anchor="middle" fill="#2b2b2b" font-weight="normal" stroke="#2b2b2b" stroke-width="0.12" >25.33</text>
<rect x="187.80" y="188.85" width="27.45" height="31.10" fill="#fd715d"/>
<text x="203.50" y="205.88" font-size="6.7" text-anchor="middle" fill="#2b2b2b" font-weight="normal" stroke="#2b2b2b" stroke-width="0.12" >39.4</text>
<rect x="215.20" y="188.85" width="27.45" height="31.10" fill="#fd705c"/>
<text x="230.90" y="205.88" font-size="6.7" text-anchor="middle" fill="#2b2b2b" font-weight="normal" stroke="#2b2b2b" stroke-width="0.12" >39.72</text>
<rect x="160.40" y="219.90" width="27.45" height="31.10" fill="#ffffff"/>
<text x="176.10" y="236.93" font-size="6.7" text-anchor="middle" fill="#2b2b2b" font-weight="normal" stroke="#2b2b2b" stroke-width="0.12" >0</text>
<rect x="187.80" y="219.90" width="27.45" height="31.10" fill="#ffcec3"/>
<text x="203.50" y="236.93" font-size="6.7" text-anchor="middle" fill="#2b2b2b" font-weight="normal" stroke="#2b2b2b" stroke-width="0.12" >13.93</text>
<rect x="215.20" y="219.90" width="27.45" height="31.10" fill="#ffa998"/>
<text x="230.90" y="236.93" font-size="6.7" text-anchor="middle" fill="#2b2b2b" font-weight="normal" stroke="#2b2b2b" stroke-width="0.12" >24.41</text>
<text x="201.50" y="151.00" font-size="7.8" text-anchor="middle" fill="#231f20" font-weight="normal" stroke="#231f20" stroke-width="0.12" >Inhibition (%)</text>
<text x="153.80" y="175.99" font-size="7.4" text-anchor="end" fill="#231f20" font-weight="normal" stroke="#231f20" stroke-width="0.12" >20</text>
<line x1="157.0" y1="173.33" x2="158.4" y2="173.33" stroke="#666" stroke-width="0.8"/>
<text x="153.80" y="207.04" font-size="7.4" text-anchor="end" fill="#231f20" font-weight="normal" stroke="#231f20" stroke-width="0.12" >5</text>
<line x1="157.0" y1="204.38" x2="158.4" y2="204.38" stroke="#666" stroke-width="0.8"/>
<text x="153.80" y="238.09" font-size="7.4" text-anchor="end" fill="#231f20" font-weight="normal" stroke="#231f20" stroke-width="0.12" >0</text>
<line x1="157.0" y1="235.43" x2="158.4" y2="235.43" stroke="#666" stroke-width="0.8"/>
<text x="173.20" y="261.95" font-size="7.4" text-anchor="middle" fill="#231f20" font-weight="normal" stroke="#231f20" stroke-width="0.12" >0</text>
<line x1="174.10" y1="252.95000000000002" x2="174.10" y2="254.15" stroke="#666" stroke-width="0.8"/>
<text x="200.60" y="261.95" font-size="7.4" text-anchor="middle" fill="#231f20" font-weight="normal" stroke="#231f20" stroke-width="0.12" >5</text>
<line x1="201.50" y1="252.95000000000002" x2="201.50" y2="254.15" stroke="#666" stroke-width="0.8"/>
<text x="228.00" y="261.95" font-size="7.4" text-anchor="middle" fill="#231f20" font-weight="normal" stroke="#231f20" stroke-width="0.12" >20</text>
<line x1="228.90" y1="252.95000000000002" x2="228.90" y2="254.15" stroke="#666" stroke-width="0.8"/>
<text x="208.40" y="271.75" font-size="7.75" text-anchor="middle" fill="#231f20" font-weight="normal" stroke="#231f20" stroke-width="0.12" >AZD4547 (μmol/L)</text>
<text x="142.00" y="202.88" font-size="8.1" text-anchor="middle" fill="#231f20" stroke="#231f20" stroke-width="0.12" transform="rotate(-90 142.00 202.88)">YM155 (μmol/L)</text>
<rect x="340.10" y="197.50" width="85.00" height="95.95" fill="#eaeaea"/>
<rect x="341.50" y="198.90" width="27.45" height="31.10" fill="#ff7b67"/>
<text x="356.50" y="215.12" font-size="6.7" text-anchor="middle" fill="#2b2b2b" font-weight="normal" stroke="#2b2b2b" stroke-width="0.12" >24.41</text>
<rect x="368.90" y="198.90" width="27.45" height="31.10" fill="#ff8d79"/>
<text x="383.90" y="215.12" font-size="6.7" text-anchor="middle" fill="#2b2b2b" font-weight="normal" stroke="#2b2b2b" stroke-width="0.12" >21.24</text>
<rect x="396.30" y="198.90" width="27.45" height="31.10" fill="#ec1c22"/>
<text x="411.30" y="215.12" font-size="6.7" text-anchor="middle" fill="#2b2b2b" font-weight="normal" stroke="#2b2b2b" stroke-width="0.12" >36.58</text>
<rect x="341.50" y="229.95" width="27.45" height="31.10" fill="#ffb5a6"/>
<text x="356.50" y="246.18" font-size="6.7" text-anchor="middle" fill="#2b2b2b" font-weight="normal" stroke="#2b2b2b" stroke-width="0.12" >13.93</text>
<rect x="368.90" y="229.95" width="27.45" height="31.10" fill="#fff1ed"/>
<text x="383.90" y="246.18" font-size="6.7" text-anchor="middle" fill="#2b2b2b" font-weight="normal" stroke="#2b2b2b" stroke-width="0.12" >2.73</text>
<rect x="396.30" y="229.95" width="27.45" height="31.10" fill="#ff8773"/>
<text x="411.30" y="246.18" font-size="6.7" text-anchor="middle" fill="#2b2b2b" font-weight="normal" stroke="#2b2b2b" stroke-width="0.12" >22.36</text>
<rect x="341.50" y="261.00" width="27.45" height="31.10" fill="#ffffff"/>
<text x="356.50" y="277.22" font-size="6.7" text-anchor="middle" fill="#2b2b2b" font-weight="normal" stroke="#2b2b2b" stroke-width="0.12" >0</text>
<rect x="368.90" y="261.00" width="27.45" height="31.10" fill="#ff9e8c"/>
<text x="383.90" y="277.22" font-size="6.7" text-anchor="middle" fill="#2b2b2b" font-weight="normal" stroke="#2b2b2b" stroke-width="0.12" >18.15</text>
<rect x="396.30" y="261.00" width="27.45" height="31.10" fill="#fb6754"/>
<text x="411.30" y="277.22" font-size="6.7" text-anchor="middle" fill="#2b2b2b" font-weight="normal" stroke="#2b2b2b" stroke-width="0.12" >27.78</text>
<text x="382.60" y="192.40" font-size="8.75" text-anchor="middle" fill="#231f20" font-weight="normal" stroke="#231f20" stroke-width="0.12" >Inhibition (%)</text>
<text x="334.70" y="217.45" font-size="8.4" text-anchor="end" fill="#231f20" font-weight="normal" stroke="#231f20" stroke-width="0.12" >20</text>
<line x1="338.1" y1="214.43" x2="339.5" y2="214.43" stroke="#666" stroke-width="0.8"/>
<text x="334.70" y="248.50" font-size="8.4" text-anchor="end" fill="#231f20" font-weight="normal" stroke="#231f20" stroke-width="0.12" >5</text>
<line x1="338.1" y1="245.48" x2="339.5" y2="245.48" stroke="#666" stroke-width="0.8"/>
<text x="334.70" y="279.55" font-size="8.4" text-anchor="end" fill="#231f20" font-weight="normal" stroke="#231f20" stroke-width="0.12" >0</text>
<line x1="338.1" y1="276.52" x2="339.5" y2="276.52" stroke="#666" stroke-width="0.8"/>
<text x="354.30" y="306.25" font-size="8.4" text-anchor="middle" fill="#231f20" font-weight="normal" stroke="#231f20" stroke-width="0.12" >0</text>
<line x1="355.20" y1="294.05" x2="355.20" y2="295.25" stroke="#666" stroke-width="0.8"/>
<text x="381.70" y="306.25" font-size="8.4" text-anchor="middle" fill="#231f20" font-weight="normal" stroke="#231f20" stroke-width="0.12" >10</text>
<line x1="382.60" y1="294.05" x2="382.60" y2="295.25" stroke="#666" stroke-width="0.8"/>
<text x="409.10" y="306.25" font-size="8.4" text-anchor="middle" fill="#231f20" font-weight="normal" stroke="#231f20" stroke-width="0.12" >40</text>
<line x1="410.00" y1="294.05" x2="410.00" y2="295.25" stroke="#666" stroke-width="0.8"/>
<text x="382.60" y="317.05" font-size="8.9" text-anchor="middle" fill="#231f20" font-weight="normal" stroke="#231f20" stroke-width="0.12" >ICG001 (μmol/L)</text>
<text x="320.80" y="245.48" font-size="8.9" text-anchor="middle" fill="#231f20" stroke="#231f20" stroke-width="0.12" transform="rotate(-90 320.80 245.48)">AZD4547 (μmol/L)</text>
<rect x="40.00" y="350.20" width="85.00" height="95.95" fill="#eaeaea"/>
<rect x="41.40" y="351.60" width="27.45" height="31.10" fill="#ff9b88"/>
<text x="56.70" y="367.82" font-size="6.7" text-anchor="middle" fill="#2b2b2b" font-weight="normal" stroke="#2b2b2b" stroke-width="0.12" >26.55</text>
<rect x="68.80" y="351.60" width="27.45" height="31.10" fill="#fb6854"/>
<text x="84.10" y="367.82" font-size="6.7" text-anchor="middle" fill="#2b2b2b" font-weight="normal" stroke="#2b2b2b" stroke-width="0.12" >39.01</text>
<rect x="96.20" y="351.60" width="27.45" height="31.10" fill="#ec1c22"/>
<text x="111.50" y="367.82" font-size="6.7" text-anchor="middle" fill="#2b2b2b" font-weight="normal" stroke="#2b2b2b" stroke-width="0.12" >51.58</text>
<rect x="41.40" y="382.65" width="27.45" height="31.10" fill="#ff9f8d"/>
<text x="56.70" y="398.88" font-size="6.7" text-anchor="middle" fill="#2b2b2b" font-weight="normal" stroke="#2b2b2b" stroke-width="0.12" >25.33</text>
<rect x="68.80" y="382.65" width="27.45" height="31.10" fill="#fb6855"/>
<text x="84.10" y="398.88" font-size="6.7" text-anchor="middle" fill="#2b2b2b" font-weight="normal" stroke="#2b2b2b" stroke-width="0.12" >38.9</text>
<rect x="96.20" y="382.65" width="27.45" height="31.10" fill="#ff7d69"/>
<text x="111.50" y="398.88" font-size="6.7" text-anchor="middle" fill="#2b2b2b" font-weight="normal" stroke="#2b2b2b" stroke-width="0.12" >33.97</text>
<rect x="41.40" y="413.70" width="27.45" height="31.10" fill="#ffffff"/>
<text x="56.70" y="429.93" font-size="6.7" text-anchor="middle" fill="#2b2b2b" font-weight="normal" stroke="#2b2b2b" stroke-width="0.12" >0</text>
<rect x="68.80" y="413.70" width="27.45" height="31.10" fill="#ffddd6"/>
<text x="84.10" y="429.93" font-size="6.7" text-anchor="middle" fill="#2b2b2b" font-weight="normal" stroke="#2b2b2b" stroke-width="0.12" >8.96</text>
<rect x="96.20" y="413.70" width="27.45" height="31.10" fill="#ffd4ca"/>
<text x="111.50" y="429.93" font-size="6.7" text-anchor="middle" fill="#2b2b2b" font-weight="normal" stroke="#2b2b2b" stroke-width="0.12" >11.44</text>
<text x="82.50" y="345.10" font-size="8.75" text-anchor="middle" fill="#231f20" font-weight="normal" stroke="#231f20" stroke-width="0.12" >Inhibition (%)</text>
<text x="34.60" y="370.15" font-size="8.4" text-anchor="end" fill="#231f20" font-weight="normal" stroke="#231f20" stroke-width="0.12" >20</text>
<line x1="38.0" y1="367.12" x2="39.4" y2="367.12" stroke="#666" stroke-width="0.8"/>
<text x="34.60" y="401.20" font-size="8.4" text-anchor="end" fill="#231f20" font-weight="normal" stroke="#231f20" stroke-width="0.12" >5</text>
<line x1="38.0" y1="398.18" x2="39.4" y2="398.18" stroke="#666" stroke-width="0.8"/>
<text x="34.60" y="432.25" font-size="8.4" text-anchor="end" fill="#231f20" font-weight="normal" stroke="#231f20" stroke-width="0.12" >0</text>
<line x1="38.0" y1="429.23" x2="39.4" y2="429.23" stroke="#666" stroke-width="0.8"/>
<text x="54.20" y="458.95" font-size="8.4" text-anchor="middle" fill="#231f20" font-weight="normal" stroke="#231f20" stroke-width="0.12" >0</text>
<line x1="55.10" y1="446.75" x2="55.10" y2="447.95" stroke="#666" stroke-width="0.8"/>
<text x="81.60" y="458.95" font-size="8.4" text-anchor="middle" fill="#231f20" font-weight="normal" stroke="#231f20" stroke-width="0.12" >5</text>
<line x1="82.50" y1="446.75" x2="82.50" y2="447.95" stroke="#666" stroke-width="0.8"/>
<text x="109.00" y="458.95" font-size="8.4" text-anchor="middle" fill="#231f20" font-weight="normal" stroke="#231f20" stroke-width="0.12" >10</text>
<line x1="109.90" y1="446.75" x2="109.90" y2="447.95" stroke="#666" stroke-width="0.8"/>
<text x="82.50" y="469.75" font-size="8.9" text-anchor="middle" fill="#231f20" font-weight="normal" stroke="#231f20" stroke-width="0.12" >iMDK (μmol/L)</text>
<text x="20.70" y="398.18" font-size="8.9" text-anchor="middle" fill="#231f20" stroke="#231f20" stroke-width="0.12" transform="rotate(-90 20.70 398.18)">YM155 (μmol/L)</text>
<rect x="380.30" y="359.60" width="85.00" height="95.95" fill="#eaeaea"/>
<rect x="381.70" y="361.00" width="27.45" height="31.10" fill="#ff9c8a"/>
<text x="397.10" y="378.92" font-size="6.7" text-anchor="middle" fill="#2b2b2b" font-weight="normal" stroke="#2b2b2b" stroke-width="0.12" >14.06</text>
<rect x="409.10" y="361.00" width="27.45" height="31.10" fill="#ffa492"/>
<text x="424.50" y="378.92" font-size="6.7" text-anchor="middle" fill="#2b2b2b" font-weight="normal" stroke="#2b2b2b" stroke-width="0.12" >13.04</text>
<rect x="436.50" y="361.00" width="27.45" height="31.10" fill="#fc6955"/>
<text x="451.90" y="378.92" font-size="6.7" text-anchor="middle" fill="#2b2b2b" font-weight="normal" stroke="#2b2b2b" stroke-width="0.12" >20.85</text>
<rect x="381.70" y="392.05" width="27.45" height="31.10" fill="#ffd5cb"/>
<text x="397.10" y="409.97" font-size="6.7" text-anchor="middle" fill="#2b2b2b" font-weight="normal" stroke="#2b2b2b" stroke-width="0.12" >6.1</text>
<rect x="409.10" y="392.05" width="27.45" height="31.10" fill="#ffe2db"/>
<text x="424.50" y="409.97" font-size="6.7" text-anchor="middle" fill="#2b2b2b" font-weight="normal" stroke="#2b2b2b" stroke-width="0.12" >4.22</text>
<rect x="436.50" y="392.05" width="27.45" height="31.10" fill="#ff826e"/>
<text x="451.90" y="409.97" font-size="6.7" text-anchor="middle" fill="#2b2b2b" font-weight="normal" stroke="#2b2b2b" stroke-width="0.12" >17.62</text>
<rect x="381.70" y="423.10" width="27.45" height="31.10" fill="#ffffff"/>
<text x="397.10" y="441.02" font-size="6.7" text-anchor="middle" fill="#2b2b2b" font-weight="normal" stroke="#2b2b2b" stroke-width="0.12" >0</text>
<rect x="409.10" y="423.10" width="27.45" height="31.10" fill="#ff7e6a"/>
<text x="424.50" y="441.02" font-size="6.7" text-anchor="middle" fill="#2b2b2b" font-weight="normal" stroke="#2b2b2b" stroke-width="0.12" >18.15</text>
<rect x="436.50" y="423.10" width="27.45" height="31.10" fill="#ec1c22"/>
<text x="451.90" y="441.02" font-size="6.7" text-anchor="middle" fill="#2b2b2b" font-weight="normal" stroke="#2b2b2b" stroke-width="0.12" >27.78</text>
<text x="422.80" y="354.50" font-size="8.75" text-anchor="middle" fill="#231f20" font-weight="normal" stroke="#231f20" stroke-width="0.12" >Inhibition (%)</text>
<text x="374.90" y="379.55" font-size="8.4" text-anchor="end" fill="#231f20" font-weight="normal" stroke="#231f20" stroke-width="0.12" >20</text>
<line x1="378.3" y1="376.52" x2="379.7" y2="376.52" stroke="#666" stroke-width="0.8"/>
<text x="374.90" y="410.60" font-size="8.4" text-anchor="end" fill="#231f20" font-weight="normal" stroke="#231f20" stroke-width="0.12" >10</text>
<line x1="378.3" y1="407.57" x2="379.7" y2="407.57" stroke="#666" stroke-width="0.8"/>
<text x="374.90" y="441.65" font-size="8.4" text-anchor="end" fill="#231f20" font-weight="normal" stroke="#231f20" stroke-width="0.12" >0</text>
<line x1="378.3" y1="438.62" x2="379.7" y2="438.62" stroke="#666" stroke-width="0.8"/>
<text x="394.50" y="468.35" font-size="8.4" text-anchor="middle" fill="#231f20" font-weight="normal" stroke="#231f20" stroke-width="0.12" >0</text>
<line x1="395.40" y1="456.15" x2="395.40" y2="457.34999999999997" stroke="#666" stroke-width="0.8"/>
<text x="421.90" y="468.35" font-size="8.4" text-anchor="middle" fill="#231f20" font-weight="normal" stroke="#231f20" stroke-width="0.12" >10</text>
<line x1="422.80" y1="456.15" x2="422.80" y2="457.34999999999997" stroke="#666" stroke-width="0.8"/>
<text x="449.30" y="468.35" font-size="8.4" text-anchor="middle" fill="#231f20" font-weight="normal" stroke="#231f20" stroke-width="0.12" >40</text>
<line x1="450.20" y1="456.15" x2="450.20" y2="457.34999999999997" stroke="#666" stroke-width="0.8"/>
<text x="422.80" y="479.15" font-size="8.9" text-anchor="middle" fill="#231f20" font-weight="normal" stroke="#231f20" stroke-width="0.12" >ICG001 (μmol/L)</text>
<text x="361.00" y="407.57" font-size="8.9" text-anchor="middle" fill="#231f20" stroke="#231f20" stroke-width="0.12" transform="rotate(-90 361.00 407.57)">AG1478 (μmol/L)</text>
<text x="244.8" y="291.8" font-size="8.9" text-anchor="middle" fill="#231f20" font-weight="normal" stroke="#231f20" stroke-width="0.12" >HSA synergy score</text>
<line x1="171.8" y1="345.60" x2="317.4" y2="345.60" stroke="#7a7a7a" stroke-width="1.3" stroke-dasharray="6.7 6.7" stroke-dashoffset="4.2"/>
<line x1="171.8" y1="431.00" x2="317.4" y2="431.00" stroke="#7a7a7a" stroke-width="1.3" stroke-dasharray="6.7 6.7" stroke-dashoffset="4.2"/>
<text x="166.0" y="305.20" font-size="8.3" text-anchor="end" fill="#231f20" font-weight="normal" stroke="#231f20" stroke-width="0.12" >20</text>
<line x1="169.4" y1="302.90" x2="171.8" y2="302.90" stroke="#231f20" stroke-width="0.9"/>
<text x="166.0" y="347.90" font-size="8.3" text-anchor="end" fill="#231f20" font-weight="normal" stroke="#231f20" stroke-width="0.12" >10</text>
<line x1="169.4" y1="345.60" x2="171.8" y2="345.60" stroke="#231f20" stroke-width="0.9"/>
<text x="166.0" y="390.60" font-size="8.3" text-anchor="end" fill="#231f20" font-weight="normal" stroke="#231f20" stroke-width="0.12" >0</text>
<line x1="169.4" y1="388.30" x2="171.8" y2="388.30" stroke="#231f20" stroke-width="0.9"/>
<text x="166.0" y="433.30" font-size="8.3" text-anchor="end" fill="#231f20" font-weight="normal" stroke="#231f20" stroke-width="0.12" >−10</text>
<line x1="169.4" y1="431.00" x2="171.8" y2="431.00" stroke="#231f20" stroke-width="0.9"/>
<text x="166.0" y="476.00" font-size="8.3" text-anchor="end" fill="#231f20" font-weight="normal" stroke="#231f20" stroke-width="0.12" >−20</text>
<line x1="169.4" y1="473.70" x2="171.8" y2="473.70" stroke="#231f20" stroke-width="0.9"/>
<rect x="171.8" y="296.2" width="145.59999999999997" height="183.7" fill="none" stroke="#231f20" stroke-width="1.2"/>
<text x="313.3" y="319.6" font-size="7.7" text-anchor="middle" fill="#231f20" stroke="#231f20" stroke-width="0.12" transform="rotate(-90 313.3 319.6)">Synergistic</text>
<text x="313.3" y="387" font-size="7.7" text-anchor="middle" fill="#231f20" stroke="#231f20" stroke-width="0.12" transform="rotate(-90 313.3 387)">Additive</text>
<text x="313.3" y="455.6" font-size="7.7" text-anchor="middle" fill="#231f20" stroke="#231f20" stroke-width="0.12" transform="rotate(-90 313.3 455.6)">Antagonistic</text>
<line x1="160" y1="253.5" x2="198" y2="316.3" stroke="#bc3a4a" stroke-width="0.9"/>
<line x1="128.5" y1="305.5" x2="190.6" y2="319.9" stroke="#bc3a4a" stroke-width="0.9"/>
<line x1="125.5" y1="378.5" x2="190.6" y2="330.4" stroke="#bc3a4a" stroke-width="0.9"/>
<line x1="305" y1="428.2" x2="376.5" y2="322" stroke="#664c98" stroke-width="0.9"/>
<line x1="305" y1="428.2" x2="350" y2="413.2" stroke="#664c98" stroke-width="0.9"/>
<circle cx="198" cy="316.14" r="2.3" fill="#dc1f35"/>
<circle cx="190.6" cy="319.98" r="2.3" fill="#dc1f35"/>
<circle cx="190.6" cy="330.23" r="2.3" fill="#dc1f35"/>
<circle cx="190.6" cy="375.92" r="2.3" fill="#dc1f35"/>
<circle cx="271.7" cy="362.68" r="2.3" fill="#3b4f9a"/>
<circle cx="217.7" cy="394.28" r="2.3" fill="#bdd53c"/>
<circle cx="217.7" cy="410.08" r="2.3" fill="#bdd53c"/>
<circle cx="225.6" cy="407.94" r="2.3" fill="#bdd53c"/>
<circle cx="217.7" cy="427.80" r="2.3" fill="#bdd53c"/>
<circle cx="242.2" cy="395.56" r="2.3" fill="#6cb049"/>
<circle cx="251.4" cy="400.26" r="2.3" fill="#6cb049"/>
<circle cx="244.6" cy="405.81" r="2.3" fill="#6cb049"/>
<circle cx="304.9" cy="428.44" r="2.3" fill="#8e43a0"/>
<circle cx="298.8" cy="434.42" r="2.3" fill="#8e43a0"/>
</svg>
</body></html>
